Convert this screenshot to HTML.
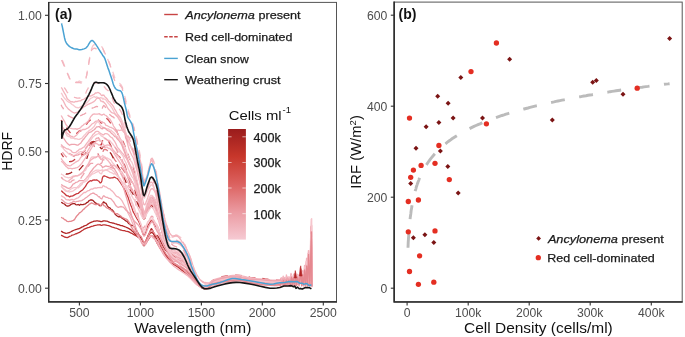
<!DOCTYPE html>
<html><head><meta charset="utf-8"><style>
html,body{margin:0;padding:0;background:#fff;}
svg{display:block;filter:blur(0.3px);}
text{font-family:"Liberation Sans",sans-serif;}
.tk{font-size:12.2px;fill:#4d4d4d;}
.lg{font-size:11.5px;fill:#1a1a1a;stroke:#1a1a1a;stroke-width:0.25px;}
</style></head><body>
<svg width="685" height="337" viewBox="0 0 685 337">
<rect width="685" height="337" fill="#fff"/>
<defs>
<linearGradient id="cb" x1="0" y1="1" x2="0" y2="0">
<stop offset="0" stop-color="#f6cad3"/>
<stop offset="0.25" stop-color="#eb9ba2"/>
<stop offset="0.5" stop-color="#dc6260"/>
<stop offset="0.75" stop-color="#c8372b"/>
<stop offset="1" stop-color="#9a1c1c"/>
</linearGradient>
<clipPath id="ca"><rect x="48.5" y="2.4" width="288" height="299.1"/></clipPath>
</defs>
<!-- panel a -->
<g clip-path="url(#ca)" fill="none" stroke-width="1.3" stroke-linejoin="round" opacity="1">
<path d="M61.1 120.0L61.9 121.4L63.1 123.0L64.5 125.4L65.9 127.3L67.2 129.1L68.4 130.3L69.6 131.8L70.9 133.6L72.1 134.1L73.3 135.3L74.5 134.9L75.7 133.8L77.0 133.2L78.2 132.1L79.4 130.8L80.6 131.0L81.8 129.4L83.1 128.1L84.3 127.4L85.5 125.4L86.7 124.1L87.9 122.2L89.2 121.0L90.4 120.1L91.6 120.0L92.9 120.1L94.2 120.0L95.4 119.6L96.6 120.1L97.7 120.2L98.6 120.1L99.4 121.0L100.1 121.4L100.7 122.6L101.4 123.2L101.9 122.5L102.2 121.4L102.6 119.6L103.1 118.1L103.8 117.6L104.8 117.5L106.0 117.9L107.3 119.1L108.6 120.3L109.9 122.1L111.1 123.7L112.3 125.1L113.5 126.7L114.8 128.0L116.0 130.3L117.2 132.4L118.4 135.2L119.6 137.1L120.9 138.1L122.1 140.1L123.3 142.0L124.5 144.9L125.7 148.5L127.0 151.9L128.2 155.1L129.4 158.3L130.6 161.3L131.8 163.3L133.1 166.5L134.3 170.6L135.5 175.2L136.8 181.4L138.1 187.2L139.3 192.5L140.4 196.8L141.3 202.0L142.0 206.9L142.7 210.2L143.3 212.9L144.0 213.2L144.8 212.1L145.5 210.1L146.2 207.5L147.0 205.8L147.7 204.1L148.4 202.7L149.2 201.8L149.9 200.1L150.6 199.4L151.4 199.2L152.1 198.8L152.8 197.9L153.5 197.6L154.3 197.7L155.0 199.2L155.7 202.0L156.4 204.5L157.0 208.2L157.8 212.7L158.7 216.7L159.7 221.8L160.9 226.2L162.2 231.1L163.5 235.8L164.8 240.0L166.0 243.6L167.2 247.0L168.4 249.9L169.6 252.5L170.9 254.6L172.1 256.2L173.3 257.1L174.5 257.7L175.7 258.2L177.0 258.7L178.2 259.2L179.4 259.4L180.6 259.6L181.8 260.1L183.1 260.9L184.3 262.4L185.5 264.2L186.7 266.3L187.9 268.4L189.2 270.3L190.4 272.1L191.6 273.8L192.8 275.5L194.0 277.1L195.3 278.6L196.5 280.3L197.7 281.9L198.9 283.5L200.1 284.8L201.4 285.9L202.6 286.6L203.8 287.0L205.0 287.3L206.2 287.2L207.4 286.8L208.6 285.9L209.6 284.5L210.7 282.9L211.9 281.3L213.5 280.0L215.6 279.1L218.0 278.3L220.6 277.6L223.2 277.0L225.7 276.5L228.2 276.1L230.6 275.8L233.1 275.6L235.5 275.5L237.9 275.6L240.4 275.8L242.8 276.1L245.3 276.6L247.7 277.0L250.1 277.4L252.6 277.7L255.0 277.9L257.4 278.1L259.9 278.3L262.3 278.5L264.8 278.9L267.2 279.2L269.6 279.6L272.1 279.9L274.5 280.0L277.0 280.0L279.4 279.7L280.2 280.3L280.6 278.8L282.1 280.1L282.8 278.3L284.1 280.6L284.7 278.4L285.9 279.3L286.5 277.8L287.9 280.7L289.1 278.3L290.1 280.3L290.9 277.3L292.3 280.8L293.0 277.2L294.3 281.0L295.8 276.1L296.4 279.5L297.6 277.0L299.1 279.9L301.0 274.1L301.7 279.7L302.4 275.5L303.7 279.4L304.6 273.8L305.7 280.3L306.7 270.0L307.7 280.4L308.5 267.1L309.9 280.8L311.3 256.2L311.9 281.7" stroke="#d04a50" stroke-dasharray="6.8 7.2" stroke-dashoffset="4.7"/>
<path d="M61.1 145.6L61.9 146.5L63.1 147.5L64.5 148.8L65.9 150.2L67.2 151.6L68.4 152.9L69.6 153.9L70.9 154.4L72.1 155.1L73.3 156.0L74.5 156.6L75.7 157.0L77.0 156.7L78.2 155.8L79.4 155.0L80.6 154.3L81.8 153.2L83.1 152.4L84.3 151.5L85.5 149.8L86.7 148.4L87.9 146.5L89.2 144.3L90.4 143.5L91.6 143.1L92.9 143.9L94.2 146.1L95.4 148.7L96.6 151.5L97.7 153.3L98.6 155.0L99.4 156.9L100.1 157.9L100.7 158.9L101.4 158.5L101.9 156.8L102.2 155.0L102.6 153.1L103.1 151.2L103.8 149.7L104.8 149.4L106.0 149.5L107.3 150.5L108.6 152.2L109.9 153.6L111.1 154.9L112.3 156.3L113.5 157.7L114.8 159.8L116.0 161.3L117.2 163.1L118.4 165.3L119.6 165.6L120.9 167.3L122.1 168.6L123.3 170.0L124.5 172.0L125.7 173.8L127.0 176.3L128.2 177.9L129.4 181.3L130.6 185.1L131.8 187.8L133.1 191.6L134.3 193.8L135.5 195.9L136.8 198.9L138.1 201.3L139.3 204.2L140.4 206.3L141.3 208.7L142.0 210.4L142.7 212.5L143.3 214.6L144.0 215.5L144.8 216.4L145.5 215.1L146.2 213.8L147.0 212.1L147.7 210.3L148.4 208.7L149.2 206.1L149.9 204.4L150.6 202.7L151.4 202.5L152.1 203.2L152.8 204.1L153.5 205.9L154.3 208.0L155.0 209.3L155.7 211.5L156.4 213.8L157.0 215.8L157.8 218.1L158.7 220.1L159.7 223.0L160.9 226.0L162.2 229.8L163.5 233.6L164.8 237.1L166.0 240.6L167.2 244.1L168.4 247.4L169.6 250.4L170.9 252.8L172.1 254.6L173.3 255.7L174.5 256.5L175.7 257.2L177.0 258.0L178.2 258.9L179.4 259.6L180.6 260.4L181.8 261.2L183.1 262.2L184.3 263.3L185.5 264.5L186.7 265.8L187.9 267.2L189.2 268.9L190.4 271.0L191.6 273.5L192.8 276.1L194.0 278.5L195.3 280.5L196.5 282.1L197.7 283.5L198.9 284.6L200.1 285.5L201.4 286.3L202.6 287.0L203.8 287.5L205.0 287.9L206.2 287.9L207.4 287.5L208.6 286.5L209.6 284.9L210.7 283.1L211.9 281.3L213.5 279.9L215.6 278.8L218.0 277.9L220.6 277.2L223.2 276.5L225.7 276.0L228.2 275.6L230.6 275.3L233.1 275.2L235.5 275.1L237.9 275.2L240.4 275.5L242.8 275.9L245.3 276.4L247.7 276.9L250.1 277.4L252.6 277.8L255.0 278.2L257.4 278.6L259.9 278.9L262.3 279.2L264.8 279.5L267.2 279.8L269.6 280.0L272.1 280.2L274.5 280.2L277.0 280.0L279.4 279.7L280.2 279.2L280.6 278.9L282.1 281.1L282.9 278.4L284.1 280.0L285.0 278.7L285.9 280.4L286.6 278.1L287.9 280.3L289.5 278.5L290.1 279.5L291.4 277.2L292.3 280.8L292.9 277.9L294.3 279.4L295.2 276.6L296.4 279.9L297.1 277.4L299.1 280.7L300.8 275.8L301.7 279.8L302.8 276.8L303.7 279.9L304.7 274.2L305.7 280.9L306.8 272.8L307.7 280.4L308.7 271.8L309.9 279.2L310.9 262.0L311.9 281.7" stroke="#df7a82" stroke-dasharray="6.8 7.2" stroke-dashoffset="3.3"/>
<path d="M61.1 153.4L61.9 154.7L63.1 156.5L64.5 158.6L65.9 159.8L67.2 160.6L68.4 161.5L69.6 161.7L70.9 161.5L72.1 161.3L73.3 160.6L74.5 159.7L75.7 159.1L77.0 158.3L78.2 156.8L79.4 156.0L80.6 155.3L81.8 154.8L83.1 154.5L84.3 154.5L85.5 153.7L86.7 151.1L87.9 148.3L89.2 145.4L90.4 143.0L91.6 141.9L92.9 141.6L94.2 141.3L95.4 141.8L96.6 142.8L97.7 142.6L98.6 143.6L99.4 144.4L100.1 144.3L100.7 145.2L101.4 144.8L101.9 143.0L102.2 142.4L102.6 140.6L103.1 139.3L103.8 139.6L104.8 138.9L106.0 139.3L107.3 140.5L108.6 141.3L109.9 143.9L111.1 146.2L112.3 147.7L113.5 150.1L114.8 151.6L116.0 153.3L117.2 154.8L118.4 156.1L119.6 156.9L120.9 158.0L122.1 159.8L123.3 161.6L124.5 164.7L125.7 168.3L127.0 171.8L128.2 175.0L129.4 177.8L130.6 179.7L131.8 181.8L133.1 184.8L134.3 187.8L135.5 192.4L136.8 197.4L138.1 201.8L139.3 205.6L140.4 208.9L141.3 211.3L142.0 213.9L142.7 216.9L143.3 218.5L144.0 219.1L144.8 218.5L145.5 216.4L146.2 214.1L147.0 212.2L147.7 210.2L148.4 209.4L149.2 208.2L149.9 206.9L150.6 206.1L151.4 205.3L152.1 205.2L152.8 205.6L153.5 206.5L154.3 207.6L155.0 208.7L155.7 210.0L156.4 212.1L157.0 214.2L157.8 216.3L158.7 219.2L159.7 222.7L160.9 227.4L162.2 231.9L163.5 236.2L164.8 240.1L166.0 243.3L167.2 246.3L168.4 249.1L169.6 251.6L170.9 253.8L172.1 255.8L173.3 257.6L174.5 259.1L175.7 260.4L177.0 261.5L178.2 262.2L179.4 262.5L180.6 262.7L181.8 263.1L183.1 263.8L184.3 264.9L185.5 266.3L186.7 267.9L187.9 269.6L189.2 271.3L190.4 273.1L191.6 275.0L192.8 277.0L194.0 278.9L195.3 280.5L196.5 281.9L197.7 283.2L198.9 284.3L200.1 285.2L201.4 286.0L202.6 286.6L203.8 287.0L205.0 287.3L206.2 287.4L207.4 287.4L208.6 287.3L209.6 287.0L210.7 286.5L211.9 286.0L213.5 285.4L215.6 284.8L218.0 284.0L220.6 283.2L223.2 282.4L225.7 281.8L228.2 281.4L230.6 281.0L233.1 280.7L235.5 280.6L237.9 280.7L240.4 281.0L242.8 281.5L245.3 282.1L247.7 282.7L250.1 283.2L252.6 283.4L255.0 283.5L257.4 283.5L259.9 283.6L262.3 283.8L264.8 284.0L267.2 284.4L269.6 284.8L272.1 285.1L274.5 285.2L277.0 285.0L279.4 284.7L280.2 285.6L281.2 283.9L282.1 284.7L283.7 283.5L284.1 286.0L285.4 283.9L285.9 285.0L286.9 283.1L287.9 285.5L288.8 283.4L290.1 286.2L291.2 282.8L292.3 285.8L293.6 282.6L294.3 284.9L294.9 281.8L296.4 285.1L297.8 282.8L299.1 284.8L300.2 279.8L301.7 284.6L302.3 282.0L303.7 284.6L304.2 279.2L305.7 284.3L306.2 278.8L307.7 285.1L308.6 275.0L309.9 285.9L310.7 266.4L311.9 286.7" stroke="#c43c40" stroke-dasharray="6.8 7.2" stroke-dashoffset="2.3"/>
<path d="M61.1 169.5L61.9 170.6L63.1 171.5L64.5 172.7L65.9 174.0L67.2 174.0L68.4 173.9L69.6 173.4L70.9 172.8L72.1 172.0L73.3 171.3L74.5 170.8L75.7 170.1L77.0 170.5L78.2 170.5L79.4 169.7L80.6 168.3L81.8 166.9L83.1 165.5L84.3 163.8L85.5 162.2L86.7 158.8L87.9 155.0L89.2 150.7L90.4 146.8L91.6 144.4L92.9 142.4L94.2 141.9L95.4 141.5L96.6 141.5L97.7 142.7L98.6 143.8L99.4 145.4L100.1 147.2L100.7 148.0L101.4 148.7L101.9 148.8L102.2 148.2L102.6 147.7L103.1 147.1L103.8 146.8L104.8 147.4L106.0 148.7L107.3 150.0L108.6 151.2L109.9 152.4L111.1 153.7L112.3 156.1L113.5 158.7L114.8 160.9L116.0 163.1L117.2 164.9L118.4 166.8L119.6 169.4L120.9 171.0L122.1 173.0L123.3 175.8L124.5 178.6L125.7 181.6L127.0 185.1L128.2 187.3L129.4 188.8L130.6 190.8L131.8 192.2L133.1 194.1L134.3 196.2L135.5 199.1L136.8 201.8L138.1 204.7L139.3 207.0L140.4 208.7L141.3 210.3L142.0 212.4L142.7 214.8L143.3 216.2L144.0 217.7L144.8 217.1L145.5 215.7L146.2 213.1L147.0 210.6L147.7 208.8L148.4 207.1L149.2 206.9L149.9 206.9L150.6 206.9L151.4 207.0L152.1 207.1L152.8 206.3L153.5 206.5L154.3 208.1L155.0 209.5L155.7 210.9L156.4 212.3L157.0 214.1L157.8 216.6L158.7 220.0L159.7 224.0L160.9 226.3L162.2 231.0L163.5 235.6L164.8 239.6L166.0 243.0L167.2 246.2L168.4 249.1L169.6 251.7L170.9 253.9L172.1 255.6L173.3 256.9L174.5 257.9L175.7 258.7L177.0 259.5L178.2 260.2L179.4 260.7L180.6 261.1L181.8 261.7L183.1 262.5L184.3 263.7L185.5 265.2L186.7 266.7L187.9 268.4L189.2 270.1L190.4 271.8L191.6 273.7L192.8 275.5L194.0 277.4L195.3 279.1L196.5 280.8L197.7 282.5L198.9 284.0L200.1 285.4L201.4 286.5L202.6 287.3L203.8 287.9L205.0 288.3L206.2 288.3L207.4 288.0L208.6 287.2L209.6 285.9L210.7 284.3L211.9 282.8L213.5 281.5L215.6 280.5L218.0 279.6L220.6 278.8L223.2 278.1L225.7 277.6L228.2 277.2L230.6 277.0L233.1 277.0L235.5 277.0L237.9 277.1L240.4 277.3L242.8 277.5L245.3 277.9L247.7 278.2L250.1 278.5L252.6 278.7L255.0 278.9L257.4 279.1L259.9 279.3L262.3 279.5L264.8 279.9L267.2 280.4L269.6 280.9L272.1 281.3L274.5 281.5L277.0 281.4L279.4 281.1L280.2 281.4L280.5 280.4L282.1 281.6L283.5 280.1L284.1 282.0L284.9 280.3L285.9 280.6L286.4 280.0L287.9 282.0L288.7 280.0L290.1 281.6L291.1 279.4L292.3 282.3L293.3 279.6L294.3 282.4L295.4 278.7L296.4 282.3L297.1 279.3L299.1 282.5L301.1 278.2L301.7 281.1L303.1 278.6L303.7 280.8L304.6 277.5L305.7 280.9L306.5 276.2L307.7 282.3L309.2 273.5L309.9 281.7L311.3 269.2L311.9 283.1" stroke="#a51f1f" stroke-dasharray="6.8 7.2" stroke-dashoffset="7.4"/>
<path d="M61.1 190.9L61.9 191.2L63.1 192.5L64.5 193.5L65.9 195.1L67.2 195.9L68.4 195.9L69.6 196.9L70.9 196.1L72.1 196.1L73.3 195.6L74.5 194.9L75.7 194.2L77.0 193.7L78.2 193.4L79.4 192.3L80.6 191.3L81.8 190.4L83.1 189.4L84.3 187.9L85.5 186.4L86.7 184.2L87.9 182.6L89.2 181.4L90.4 180.7L91.6 181.0L92.9 180.1L94.2 180.0L95.4 180.2L96.6 179.8L97.7 180.5L98.6 181.0L99.4 181.9L100.1 182.9L100.7 182.8L101.4 182.1L101.9 180.7L102.2 178.8L102.6 177.4L103.1 176.5L103.8 175.9L104.8 176.0L106.0 176.5L107.3 177.1L108.6 177.7L109.9 178.1L111.1 177.8L112.3 177.8L113.5 177.5L114.8 177.2L116.0 178.0L117.2 178.5L118.4 179.8L119.6 181.5L120.9 183.3L122.1 185.1L123.3 187.1L124.5 189.4L125.7 191.8L127.0 194.9L128.2 197.6L129.4 201.4L130.6 204.7L131.8 207.6L133.1 211.6L134.3 213.6L135.5 215.9L136.8 218.4L138.1 220.3L139.3 222.8L140.4 225.1L141.3 227.8L142.0 230.5L142.7 233.0L143.3 234.6L144.0 235.2L144.8 234.8L145.5 233.0L146.2 230.6L147.0 228.1L147.7 226.0L148.4 224.4L149.2 223.6L149.9 222.7L150.6 221.1L151.4 220.6L152.1 220.5L152.8 221.3L153.5 223.0L154.3 224.7L155.0 225.9L155.7 226.4L156.4 226.9L157.0 227.3L157.8 228.7L158.7 230.2L159.7 232.8L160.9 236.4L162.2 239.8L163.5 243.2L164.8 245.9L166.0 248.1L167.2 250.0L168.4 251.7L169.6 253.1L170.9 254.5L172.1 255.7L173.3 256.7L174.5 257.5L175.7 258.3L177.0 259.1L178.2 259.9L179.4 260.5L180.6 261.1L181.8 261.9L183.1 262.9L184.3 264.3L185.5 265.9L186.7 267.6L187.9 269.4L189.2 271.1L190.4 272.8L191.6 274.5L192.8 276.3L194.0 278.0L195.3 279.6L196.5 281.3L197.7 283.0L198.9 284.6L200.1 286.0L201.4 287.1L202.6 287.9L203.8 288.4L205.0 288.7L206.2 288.7L207.4 288.4L208.6 287.6L209.6 286.5L210.7 285.1L211.9 283.7L213.5 282.6L215.6 281.8L218.0 281.0L220.6 280.4L223.2 279.9L225.7 279.4L228.2 279.1L230.6 278.8L233.1 278.5L235.5 278.4L237.9 278.5L240.4 278.6L242.8 279.0L245.3 279.4L247.7 279.8L250.1 280.2L252.6 280.5L255.0 280.9L257.4 281.2L259.9 281.5L262.3 281.8L264.8 282.0L267.2 282.3L269.6 282.5L272.1 282.6L274.5 282.7L277.0 282.6L279.4 282.4L280.2 282.9L281.1 281.8L282.1 282.8L283.6 281.3L284.1 283.1L285.2 281.7L285.9 282.7L286.9 281.2L287.9 282.3L289.3 281.3L290.1 283.7L290.9 280.6L292.3 283.2L293.2 280.7L294.3 282.7L295.2 280.4L296.4 282.5L297.6 280.9L299.1 281.9L300.7 278.6L301.7 282.2L302.5 279.7L303.7 283.0L304.6 277.7L305.7 283.8L306.3 277.3L307.7 282.1L309.0 274.2L309.9 282.6L311.1 267.9L311.9 284.4" stroke="#c8383c"/>
<path d="M61.1 202.4L61.9 202.6L63.1 203.5L64.5 204.0L65.9 205.5L67.2 206.1L68.4 206.0L69.6 205.6L70.9 204.4L72.1 203.9L73.3 203.7L74.5 203.6L75.7 204.6L77.0 204.9L78.2 204.5L79.4 205.3L80.6 204.3L81.8 204.7L83.1 204.6L84.3 204.1L85.5 203.8L86.7 202.7L87.9 202.1L89.2 200.5L90.4 200.0L91.6 199.9L92.9 200.4L94.2 201.8L95.4 202.9L96.6 203.6L97.7 204.1L98.6 204.4L99.4 205.6L100.1 205.7L100.7 205.6L101.4 205.5L101.9 204.4L102.2 203.7L102.6 203.5L103.1 202.4L103.8 201.9L104.8 202.8L106.0 203.3L107.3 205.8L108.6 207.4L109.9 207.9L111.1 209.4L112.3 209.8L113.5 211.3L114.8 213.8L116.0 215.1L117.2 216.0L118.4 216.8L119.6 216.7L120.9 217.0L122.1 218.2L123.3 218.9L124.5 219.7L125.7 220.9L127.0 221.3L128.2 222.9L129.4 223.9L130.6 224.7L131.8 225.6L133.1 225.5L134.3 227.2L135.5 229.1L136.8 231.1L138.1 233.3L139.3 235.5L140.4 237.2L141.3 239.2L142.0 242.4L142.7 243.7L143.3 245.1L144.0 245.8L144.8 244.6L145.5 243.5L146.2 240.5L147.0 238.2L147.7 236.5L148.4 234.9L149.2 233.3L149.9 231.7L150.6 230.0L151.4 228.7L152.1 229.5L152.8 230.8L153.5 232.7L154.3 235.3L155.0 236.3L155.7 236.3L156.4 236.3L157.0 235.4L157.8 236.0L158.7 237.7L159.7 239.4L160.9 241.9L162.2 244.5L163.5 247.0L164.8 249.0L166.0 250.5L167.2 251.8L168.4 252.9L169.6 253.9L170.9 255.0L172.1 256.2L173.3 257.5L174.5 258.7L175.7 259.9L177.0 260.8L178.2 261.4L179.4 261.7L180.6 261.9L181.8 262.3L183.1 263.1L184.3 264.5L185.5 266.2L186.7 268.1L187.9 270.0L189.2 271.7L190.4 273.2L191.6 274.5L192.8 275.8L194.0 277.1L195.3 278.5L196.5 280.2L197.7 282.1L198.9 284.1L200.1 285.8L201.4 287.0L202.6 287.8L203.8 288.2L205.0 288.3L206.2 288.2L207.4 287.9L208.6 287.3L209.6 286.5L210.7 285.5L211.9 284.4L213.5 283.5L215.6 282.6L218.0 281.7L220.6 280.8L223.2 280.1L225.7 279.5L228.2 279.1L230.6 278.8L233.1 278.6L235.5 278.5L237.9 278.6L240.4 278.8L242.8 279.1L245.3 279.5L247.7 280.0L250.1 280.4L252.6 280.8L255.0 281.2L257.4 281.6L259.9 282.0L262.3 282.3L264.8 282.5L267.2 282.8L269.6 282.9L272.1 283.1L274.5 283.2L277.0 283.1L279.4 283.0L280.2 283.6L280.8 282.3L282.1 283.6L283.6 282.0L284.1 283.3L284.9 282.1L285.9 284.5L287.0 281.5L287.9 284.0L289.3 281.7L290.1 283.8L291.7 281.1L292.3 284.5L293.2 281.4L294.3 283.6L295.2 280.6L296.4 283.0L297.8 281.2L299.1 284.2L300.7 278.9L301.7 283.4L302.6 280.0L303.7 283.0L304.5 277.8L305.7 284.0L307.1 276.2L307.7 283.6L308.5 275.0L309.9 283.2L311.7 268.4L311.9 285.0" stroke="#a51f1f"/>
<path d="M61.1 231.1L61.9 231.6L63.1 232.4L64.5 232.8L65.9 233.3L67.2 233.2L68.4 232.8L69.6 232.5L70.9 231.8L72.1 231.1L73.3 230.5L74.5 230.0L75.7 229.6L77.0 229.2L78.2 228.8L79.4 228.5L80.6 227.9L81.8 227.1L83.1 226.6L84.3 225.9L85.5 225.5L86.7 225.1L87.9 224.1L89.2 223.3L90.4 222.6L91.6 222.1L92.9 221.7L94.2 221.2L95.4 221.1L96.6 220.8L97.7 220.8L98.6 221.1L99.4 221.1L100.1 221.4L100.7 221.5L101.4 221.7L101.9 221.6L102.2 221.4L102.6 221.2L103.1 221.0L103.8 220.9L104.8 220.8L106.0 221.1L107.3 221.2L108.6 221.9L109.9 222.3L111.1 222.6L112.3 223.0L113.5 223.2L114.8 223.6L116.0 223.9L117.2 224.5L118.4 224.7L119.6 225.0L120.9 225.6L122.1 225.7L123.3 226.2L124.5 226.6L125.7 227.0L127.0 227.7L128.2 228.2L129.4 228.9L130.6 229.6L131.8 230.7L133.1 231.7L134.3 233.1L135.5 234.3L136.8 234.9L138.1 235.6L139.3 236.2L140.4 236.9L141.3 238.4L142.0 240.5L142.7 242.3L143.3 243.6L144.0 244.3L144.8 243.6L145.5 242.2L146.2 240.6L147.0 238.7L147.7 237.2L148.4 235.9L149.2 234.7L149.9 233.6L150.6 232.8L151.4 232.4L152.1 232.6L152.8 233.1L153.5 233.8L154.3 234.9L155.0 235.9L155.7 237.2L156.4 238.6L157.0 240.0L157.8 241.4L158.7 242.8L159.7 244.4L160.9 246.9L162.2 248.9L163.5 251.0L164.8 252.9L166.0 254.8L167.2 256.7L168.4 258.6L169.6 260.3L170.9 261.7L172.1 262.7L173.3 263.4L174.5 263.9L175.7 264.4L177.0 265.0L178.2 265.8L179.4 266.7L180.6 267.6L181.8 268.4L183.1 269.3L184.3 270.1L185.5 270.8L186.7 271.6L187.9 272.5L189.2 273.5L190.4 274.9L191.6 276.5L192.8 278.3L194.0 279.9L195.3 281.4L196.5 282.8L197.7 284.1L198.9 285.3L200.1 286.4L201.4 287.2L202.6 287.8L203.8 288.2L205.0 288.3L206.2 288.4L207.4 288.2L208.6 287.8L209.6 287.1L210.7 286.4L211.9 285.5L213.5 284.7L215.6 284.0L218.0 283.2L220.6 282.3L223.2 281.6L225.7 281.1L228.2 280.8L230.6 280.7L233.1 280.6L235.5 280.7L237.9 280.7L240.4 280.9L242.8 281.1L245.3 281.3L247.7 281.6L250.1 281.9L252.6 282.2L255.0 282.5L257.4 282.8L259.9 283.2L262.3 283.4L264.8 283.6L267.2 283.8L269.6 284.0L272.1 284.1L274.5 284.2L277.0 284.3L279.4 284.2L280.2 284.7L280.8 283.4L282.1 284.1L283.3 282.9L284.1 285.4L284.6 283.2L285.9 285.6L286.4 282.8L287.9 283.8L288.8 283.0L290.1 285.7L291.7 282.1L292.3 284.9L293.4 282.2L294.3 284.0L294.8 281.4L296.4 285.2L297.2 281.9L299.1 284.5L300.3 280.2L301.7 284.6L303.1 281.2L303.7 285.7L304.3 278.9L305.7 284.3L307.0 276.4L307.7 284.6L308.4 274.1L309.9 284.6L311.6 266.6L311.9 286.2" stroke="#b02424"/>
<path d="M61.1 235.2L61.9 235.6L63.1 236.2L64.5 237.0L65.9 237.3L67.2 237.6L68.4 237.1L69.6 236.4L70.9 236.0L72.1 235.1L73.3 234.9L74.5 234.5L75.7 233.8L77.0 233.5L78.2 232.8L79.4 232.3L80.6 231.7L81.8 230.8L83.1 230.0L84.3 229.1L85.5 228.6L86.7 228.1L87.9 227.7L89.2 227.3L90.4 226.8L91.6 226.4L92.9 226.1L94.2 225.6L95.4 225.3L96.6 225.2L97.7 224.9L98.6 224.8L99.4 224.8L100.1 224.7L100.7 225.1L101.4 225.4L101.9 225.4L102.2 225.2L102.6 225.0L103.1 224.8L103.8 224.8L104.8 224.9L106.0 225.1L107.3 225.4L108.6 225.6L109.9 226.1L111.1 226.6L112.3 227.1L113.5 227.4L114.8 227.8L116.0 228.1L117.2 228.5L118.4 229.1L119.6 229.7L120.9 230.0L122.1 230.4L123.3 230.6L124.5 230.7L125.7 231.1L127.0 231.3L128.2 231.6L129.4 232.2L130.6 232.8L131.8 233.3L133.1 234.2L134.3 234.8L135.5 235.4L136.8 236.3L138.1 237.3L139.3 238.0L140.4 239.1L141.3 240.2L142.0 241.5L142.7 243.2L143.3 244.2L144.0 244.8L144.8 244.5L145.5 243.7L146.2 242.6L147.0 241.5L147.7 240.5L148.4 239.3L149.2 238.2L149.9 237.0L150.6 236.2L151.4 235.9L152.1 236.1L152.8 236.6L153.5 237.1L154.3 238.0L155.0 239.1L155.7 240.2L156.4 241.6L157.0 242.9L157.8 244.4L158.7 245.7L159.7 247.4L160.9 249.3L162.2 251.2L163.5 253.0L164.8 254.8L166.0 256.5L167.2 258.1L168.4 259.7L169.6 261.2L170.9 262.5L172.1 263.5L173.3 264.3L174.5 264.9L175.7 265.6L177.0 266.4L178.2 267.3L179.4 268.2L180.6 269.2L181.8 270.2L183.1 271.1L184.3 272.0L185.5 272.8L186.7 273.6L187.9 274.5L189.2 275.6L190.4 276.8L191.6 278.1L192.8 279.5L194.0 280.9L195.3 282.2L196.5 283.4L197.7 284.7L198.9 285.8L200.1 286.8L201.4 287.6L202.6 288.2L203.8 288.7L205.0 289.0L206.2 289.0L207.4 288.6L208.6 287.6L209.6 286.2L210.7 284.5L211.9 282.8L213.5 281.5L215.6 280.4L218.0 279.3L220.6 278.5L223.2 277.7L225.7 277.2L228.2 276.9L230.6 276.8L233.1 276.8L235.5 277.0L237.9 277.2L240.4 277.4L242.8 277.8L245.3 278.2L247.7 278.6L250.1 279.0L252.6 279.3L255.0 279.6L257.4 279.9L259.9 280.2L262.3 280.4L264.8 280.6L267.2 280.8L269.6 281.0L272.1 281.0L274.5 281.1L277.0 280.9L279.4 280.6L280.2 281.9L280.7 279.7L282.1 281.8L283.1 279.2L284.1 280.9L284.6 279.6L285.9 280.1L286.9 279.0L287.9 281.8L289.4 279.4L290.1 281.4L291.5 278.5L292.3 281.9L293.5 278.5L294.3 281.3L294.9 278.0L296.4 281.6L297.0 278.1L299.1 280.6L300.9 276.6L301.7 281.3L303.0 276.9L303.7 281.5L305.1 275.6L305.7 281.9L306.4 272.6L307.7 280.9L308.8 272.0L309.9 280.5L311.6 259.7L311.9 282.6" stroke="#bd3030"/>
<path d="M61.1 57.3L61.9 59.3L63.1 62.0L64.5 65.8L65.9 69.2L67.2 72.8L68.4 75.1L69.6 78.1L70.9 80.3L72.1 81.3L73.3 82.9L74.5 82.7L75.7 82.0L77.0 81.8L78.2 81.6L79.4 81.0L80.6 81.5L81.8 82.0L83.1 82.3L84.3 82.0L85.5 79.9L86.7 75.1L87.9 67.8L89.2 60.0L90.4 53.3L91.6 48.5L92.9 45.8L94.2 44.6L95.4 45.1L96.6 45.8L97.7 46.3L98.6 46.4L99.4 46.1L100.1 45.9L100.7 46.3L101.4 46.7L101.9 46.7L102.2 47.4L102.6 47.9L103.1 49.1L103.8 51.1L104.8 53.2L106.0 55.9L107.3 58.4L108.6 61.2L109.9 63.9L111.1 67.0L112.3 70.6L113.5 73.9L114.8 77.8L116.0 80.6L117.2 82.4L118.4 83.5L119.6 83.5L120.9 84.5L122.1 86.5L123.3 90.2L124.5 95.0L125.7 100.0L127.0 105.3L128.2 110.2L129.4 113.9L130.6 117.8L131.8 121.5L133.1 124.6L134.3 128.9L135.5 133.5L136.8 139.6L138.1 145.5L139.3 150.5L140.4 156.4L141.3 161.1L142.0 167.1L142.7 173.5L143.3 177.2L144.0 180.0L144.8 180.5L145.5 179.1L146.2 178.2L147.0 175.9L147.7 173.4L148.4 171.1L149.2 167.7L149.9 163.7L150.6 160.8L151.4 158.6L152.1 157.6L152.8 159.5L153.5 160.7L154.3 162.8L155.0 165.6L155.7 167.7L156.4 172.0L157.0 177.2L157.8 182.0L158.7 188.1L159.7 194.8L160.9 200.3L162.2 207.2L163.5 213.6L164.8 219.0L166.0 223.3L167.2 226.9L168.4 229.9L169.6 232.3L170.9 234.1L172.1 235.2L173.3 235.3L174.5 235.1L175.7 234.9L177.0 235.1L178.2 235.8L179.4 236.5L180.6 237.5L181.8 238.8L183.1 240.6L184.3 243.0L185.5 246.0L186.7 249.3L187.9 252.7L189.2 256.0L190.4 259.4L191.6 263.0L192.8 266.6L194.0 269.9L195.3 272.7L196.5 275.0L197.7 276.9L198.9 278.6L200.1 279.9L201.4 281.0L202.6 281.8L203.8 282.2L205.0 282.4L206.2 282.6L207.4 282.9L208.6 283.5L209.6 284.2L210.7 284.9L211.9 285.3L213.5 285.4L215.6 285.0L218.0 284.1L220.6 283.0L223.2 281.9L225.7 281.2L228.2 280.8L230.6 280.5L233.1 280.3L235.5 280.3L237.9 280.4L240.4 280.7L242.8 281.2L245.3 281.8L247.7 282.4L250.1 282.8L252.6 283.2L255.0 283.4L257.4 283.6L259.9 283.8L262.3 284.1L264.8 284.4L267.2 284.8L269.6 285.2L272.1 285.5L274.5 285.7L277.0 285.6L279.4 285.3L280.2 285.7L280.5 283.4L282.1 284.9L282.8 281.8L284.1 286.2L285.3 283.2L285.9 285.5L287.1 281.4L287.9 286.6L289.5 282.6L290.1 285.6L291.4 280.0L292.3 285.5L293.2 280.9L294.3 284.8L295.5 277.1L296.4 284.8L297.9 279.7L299.1 284.8L300.3 274.1L301.7 285.0L302.5 277.9L303.7 286.7L304.7 273.4L305.7 286.6L307.2 266.7L307.7 285.0L309.1 262.0L309.9 286.3L311.4 237.3L311.9 287.3" stroke="#f6c6cd" stroke-dasharray="6.8 7.2" stroke-dashoffset="10.7"/>
<path d="M61.1 58.3L61.9 60.7L63.1 63.6L64.5 66.8L65.9 70.1L67.2 73.0L68.4 75.8L69.6 78.7L70.9 81.2L72.1 82.3L73.3 82.8L74.5 83.1L75.7 82.5L77.0 82.6L78.2 82.6L79.4 82.4L80.6 82.8L81.8 83.3L83.1 83.4L84.3 82.3L85.5 80.1L86.7 75.2L87.9 68.5L89.2 61.2L90.4 54.3L91.6 50.1L92.9 48.8L94.2 48.2L95.4 48.4L96.6 49.1L97.7 48.7L98.6 48.4L99.4 49.0L100.1 48.7L100.7 49.4L101.4 50.1L101.9 49.6L102.2 49.5L102.6 49.0L103.1 49.2L103.8 50.7L104.8 52.9L106.0 55.5L107.3 58.5L108.6 61.3L109.9 64.8L111.1 68.0L112.3 72.9L113.5 77.3L114.8 80.9L116.0 84.1L117.2 84.9L118.4 84.9L119.6 85.1L120.9 86.3L122.1 87.9L123.3 92.6L124.5 97.8L125.7 102.9L127.0 108.6L128.2 112.5L129.4 115.6L130.6 118.9L131.8 121.9L133.1 125.5L134.3 129.2L135.5 134.1L136.8 140.1L138.1 146.9L139.3 153.5L140.4 159.5L141.3 164.7L142.0 169.6L142.7 175.2L143.3 179.3L144.0 182.6L144.8 183.4L145.5 182.2L146.2 179.5L147.0 176.1L147.7 173.8L148.4 170.4L149.2 167.0L149.9 163.7L150.6 160.1L151.4 158.5L152.1 158.5L152.8 159.6L153.5 161.7L154.3 164.0L155.0 167.5L155.7 170.7L156.4 174.9L157.0 180.0L157.8 184.6L158.7 190.0L159.7 195.6L160.9 201.2L162.2 207.7L163.5 213.9L164.8 219.1L166.0 223.6L167.2 227.6L168.4 231.1L169.6 233.9L170.9 236.0L172.1 237.0L173.3 236.9L174.5 236.4L175.7 235.9L177.0 236.0L178.2 236.8L179.4 237.8L180.6 239.1L181.8 240.7L183.1 242.4L184.3 244.4L185.5 246.6L186.7 249.0L187.9 251.7L189.2 254.6L190.4 257.9L191.6 261.7L192.8 265.6L194.0 269.3L195.3 272.3L196.5 274.7L197.7 276.6L198.9 278.2L200.1 279.5L201.4 280.7L202.6 281.6L203.8 282.3L205.0 282.7L206.2 283.0L207.4 283.1L208.6 283.1L209.6 282.9L210.7 282.5L211.9 282.0L213.5 281.5L215.6 280.9L218.0 280.0L220.6 279.2L223.2 278.4L225.7 277.8L228.2 277.5L230.6 277.3L233.1 277.2L235.5 277.2L237.9 277.3L240.4 277.6L242.8 278.1L245.3 278.7L247.7 279.3L250.1 279.7L252.6 280.0L255.0 280.3L257.4 280.5L259.9 280.7L262.3 281.0L264.8 281.3L267.2 281.6L269.6 281.9L272.1 282.1L274.5 282.2L277.0 282.1L279.4 281.9L280.2 282.4L281.5 280.6L282.1 281.5L283.2 280.2L284.1 281.9L285.2 280.5L285.9 282.4L286.5 279.5L287.9 282.1L289.1 280.2L290.1 283.3L290.9 279.0L292.3 283.2L293.2 279.4L294.3 281.9L295.6 277.2L296.4 282.6L297.8 278.5L299.1 283.2L300.5 275.2L301.7 283.0L302.7 277.4L303.7 282.0L305.1 274.1L305.7 282.0L306.8 272.5L307.7 282.8L308.6 267.4L309.9 282.0L311.6 256.8L311.9 283.9" stroke="#f3b4bd" stroke-dasharray="6.8 7.2" stroke-dashoffset="12.2"/>
<path d="M61.1 81.4L61.9 82.6L63.1 84.8L64.5 87.9L65.9 89.9L67.2 92.3L68.4 93.3L69.6 94.2L70.9 94.7L72.1 95.6L73.3 96.8L74.5 97.3L75.7 97.6L77.0 98.2L78.2 98.1L79.4 98.0L80.6 98.2L81.8 98.0L83.1 97.2L84.3 95.4L85.5 93.9L86.7 90.8L87.9 88.6L89.2 85.9L90.4 83.7L91.6 82.9L92.9 82.7L94.2 83.2L95.4 83.1L96.6 82.8L97.7 82.6L98.6 82.6L99.4 82.3L100.1 83.2L100.7 82.7L101.4 82.8L101.9 83.4L102.2 83.1L102.6 84.0L103.1 85.1L103.8 86.4L104.8 87.3L106.0 89.1L107.3 90.1L108.6 91.0L109.9 93.5L111.1 95.4L112.3 98.3L113.5 101.9L114.8 103.7L116.0 105.2L117.2 106.9L118.4 107.4L119.6 109.4L120.9 111.4L122.1 113.8L123.3 117.9L124.5 122.0L125.7 126.6L127.0 131.8L128.2 135.8L129.4 139.1L130.6 141.7L131.8 143.0L133.1 145.4L134.3 149.1L135.5 154.0L136.8 159.9L138.1 165.7L139.3 170.9L140.4 176.1L141.3 180.6L142.0 184.7L142.7 189.2L143.3 192.3L144.0 194.2L144.8 195.0L145.5 193.7L146.2 191.4L147.0 189.1L147.7 187.1L148.4 184.6L149.2 182.5L149.9 180.0L150.6 177.4L151.4 176.7L152.1 176.7L152.8 177.8L153.5 179.8L154.3 182.4L155.0 185.0L155.7 187.5L156.4 190.4L157.0 193.1L157.8 194.8L158.7 198.5L159.7 202.5L160.9 207.4L162.2 212.7L163.5 217.8L164.8 222.4L166.0 226.5L167.2 230.4L168.4 234.0L169.6 237.1L170.9 239.3L172.1 240.5L173.3 240.7L174.5 240.5L175.7 240.2L177.0 240.4L178.2 241.0L179.4 241.6L180.6 242.4L181.8 243.6L183.1 245.2L184.3 247.5L185.5 250.3L186.7 253.4L187.9 256.6L189.2 259.8L190.4 263.1L191.6 266.6L192.8 270.2L194.0 273.4L195.3 276.2L196.5 278.4L197.7 280.3L198.9 281.8L200.1 283.0L201.4 284.0L202.6 284.7L203.8 285.0L205.0 285.1L206.2 285.1L207.4 285.1L208.6 285.3L209.6 285.5L210.7 285.6L211.9 285.6L213.5 285.3L215.6 284.7L218.0 283.8L220.6 282.8L223.2 281.8L225.7 281.1L228.2 280.8L230.6 280.6L233.1 280.5L235.5 280.6L237.9 280.7L240.4 280.9L242.8 281.3L245.3 281.7L247.7 282.2L250.1 282.6L252.6 283.0L255.0 283.3L257.4 283.7L259.9 284.0L262.3 284.3L264.8 284.6L267.2 285.0L269.6 285.3L272.1 285.5L274.5 285.6L277.0 285.5L279.4 285.3L280.2 285.9L281.5 283.5L282.1 286.3L283.4 282.3L284.1 285.8L284.6 282.9L285.9 286.4L286.3 281.3L287.9 284.9L288.6 282.1L290.1 285.8L291.0 280.2L292.3 285.0L293.5 280.5L294.3 286.7L295.5 277.6L296.4 286.4L297.6 279.9L299.1 285.0L300.4 274.4L301.7 285.5L302.3 277.0L303.7 285.5L304.3 274.6L305.7 284.9L306.4 268.4L307.7 285.8L308.4 265.2L309.9 285.7L311.3 241.7L311.9 287.3" stroke="#f3b4bd" stroke-dasharray="6.8 7.2" stroke-dashoffset="7.1"/>
<path d="M61.1 87.6L61.9 88.2L63.1 90.6L64.5 93.1L65.9 95.4L67.2 98.7L68.4 99.8L69.6 100.8L70.9 101.8L72.1 101.6L73.3 102.2L74.5 102.1L75.7 101.3L77.0 101.7L78.2 101.2L79.4 100.9L80.6 100.9L81.8 99.8L83.1 99.4L84.3 99.0L85.5 98.0L86.7 97.4L87.9 96.5L89.2 95.9L90.4 96.2L91.6 95.6L92.9 94.9L94.2 94.2L95.4 93.0L96.6 93.0L97.7 92.5L98.6 92.6L99.4 93.3L100.1 93.6L100.7 94.5L101.4 95.5L101.9 95.5L102.2 95.0L102.6 95.5L103.1 95.3L103.8 95.0L104.8 96.8L106.0 97.7L107.3 99.2L108.6 101.3L109.9 102.1L111.1 103.8L112.3 105.0L113.5 106.6L114.8 109.4L116.0 111.2L117.2 113.5L118.4 115.3L119.6 116.6L120.9 118.7L122.1 121.8L123.3 124.9L124.5 128.9L125.7 132.7L127.0 136.0L128.2 140.0L129.4 143.0L130.6 145.8L131.8 147.6L133.1 150.2L134.3 154.0L135.5 158.5L136.8 164.6L138.1 171.0L139.3 176.1L140.4 180.6L141.3 185.0L142.0 188.2L142.7 191.5L143.3 193.5L144.0 194.7L144.8 194.9L145.5 193.2L146.2 191.6L147.0 188.8L147.7 187.0L148.4 185.6L149.2 184.1L149.9 183.0L150.6 182.2L151.4 182.1L152.1 182.5L152.8 184.0L153.5 185.7L154.3 188.3L155.0 190.8L155.7 192.4L156.4 194.2L157.0 196.4L157.8 198.6L158.7 202.5L159.7 206.6L160.9 210.5L162.2 215.2L163.5 219.9L164.8 224.1L166.0 228.1L167.2 232.1L168.4 235.9L169.6 239.0L170.9 241.4L172.1 242.7L173.3 243.0L174.5 242.9L175.7 242.8L177.0 243.0L178.2 243.6L179.4 244.3L180.6 245.1L181.8 246.2L183.1 247.9L184.3 250.1L185.5 252.9L186.7 256.1L187.9 259.3L189.2 262.4L190.4 265.5L191.6 268.8L192.8 272.0L194.0 275.0L195.3 277.6L196.5 279.7L197.7 281.6L198.9 283.2L200.1 284.4L201.4 285.4L202.6 286.0L203.8 286.3L205.0 286.3L206.2 286.1L207.4 285.8L208.6 285.3L209.6 284.5L210.7 283.6L211.9 282.7L213.5 281.9L215.6 281.2L218.0 280.4L220.6 279.7L223.2 279.1L225.7 278.7L228.2 278.3L230.6 278.1L233.1 277.9L235.5 277.9L237.9 277.9L240.4 278.1L242.8 278.4L245.3 278.8L247.7 279.2L250.1 279.6L252.6 279.9L255.0 280.2L257.4 280.5L259.9 280.8L262.3 281.1L264.8 281.4L267.2 281.7L269.6 282.0L272.1 282.2L274.5 282.3L277.0 282.3L279.4 282.2L280.2 283.5L281.4 280.2L282.1 282.1L283.5 278.4L284.1 282.8L285.3 279.2L285.9 282.1L286.7 278.3L287.9 282.4L288.6 278.4L290.1 282.9L291.5 276.0L292.3 281.8L293.0 277.0L294.3 282.1L295.6 275.4L296.4 282.4L297.5 276.1L299.1 282.2L301.2 269.4L301.7 282.0L303.2 274.6L303.7 283.1L305.2 267.3L305.7 282.7L306.4 262.4L307.7 283.2L308.3 253.4L309.9 282.9L310.8 226.6L311.9 284.2" stroke="#f3b4bd"/>
<path d="M61.1 92.9L61.9 93.9L63.1 96.4L64.5 98.2L65.9 99.6L67.2 101.2L68.4 102.0L69.6 102.3L70.9 103.4L72.1 104.5L73.3 105.1L74.5 106.3L75.7 107.3L77.0 107.5L78.2 107.8L79.4 107.5L80.6 106.7L81.8 106.0L83.1 104.8L84.3 104.7L85.5 103.6L86.7 102.8L87.9 101.7L89.2 100.0L90.4 98.4L91.6 98.0L92.9 97.2L94.2 96.5L95.4 97.4L96.6 96.9L97.7 97.5L98.6 98.3L99.4 98.1L100.1 97.9L100.7 97.6L101.4 97.8L101.9 97.8L102.2 98.6L102.6 99.1L103.1 98.3L103.8 99.1L104.8 99.1L106.0 100.1L107.3 102.2L108.6 103.6L109.9 105.2L111.1 106.7L112.3 108.4L113.5 110.7L114.8 113.2L116.0 115.2L117.2 116.5L118.4 116.8L119.6 117.8L120.9 119.4L122.1 121.3L123.3 124.7L124.5 128.1L125.7 132.6L127.0 136.9L128.2 141.4L129.4 145.0L130.6 146.8L131.8 149.6L133.1 152.6L134.3 156.7L135.5 161.8L136.8 167.5L138.1 173.6L139.3 179.1L140.4 184.0L141.3 188.4L142.0 191.5L142.7 194.6L143.3 196.9L144.0 198.0L144.8 197.8L145.5 196.3L146.2 194.5L147.0 192.0L147.7 190.6L148.4 189.1L149.2 187.6L149.9 186.7L150.6 185.2L151.4 184.9L152.1 185.1L152.8 185.7L153.5 187.2L154.3 189.1L155.0 191.4L155.7 193.7L156.4 196.9L157.0 199.6L157.8 202.6L158.7 206.3L159.7 210.9L160.9 216.6L162.2 222.0L163.5 227.2L164.8 231.8L166.0 235.7L167.2 239.4L168.4 242.6L169.6 245.4L170.9 247.7L172.1 249.4L173.3 250.4L174.5 251.1L175.7 251.5L177.0 252.0L178.2 252.2L179.4 252.1L180.6 252.0L181.8 252.2L183.1 253.2L184.3 255.0L185.5 257.5L186.7 260.4L187.9 263.4L189.2 266.2L190.4 268.8L191.6 271.6L192.8 274.3L194.0 276.8L195.3 278.9L196.5 280.6L197.7 282.1L198.9 283.3L200.1 284.3L201.4 285.0L202.6 285.5L203.8 285.7L205.0 285.6L206.2 285.5L207.4 285.4L208.6 285.4L209.6 285.2L210.7 285.1L211.9 284.8L213.5 284.4L215.6 283.8L218.0 283.1L220.6 282.3L223.2 281.5L225.7 281.0L228.2 280.7L230.6 280.6L233.1 280.6L235.5 280.6L237.9 280.7L240.4 280.8L242.8 280.9L245.3 281.1L247.7 281.4L250.1 281.6L252.6 282.0L255.0 282.4L257.4 282.8L259.9 283.2L262.3 283.5L264.8 283.8L267.2 284.1L269.6 284.4L272.1 284.6L274.5 284.7L277.0 284.5L279.4 284.2L280.2 284.3L281.4 282.1L282.1 284.9L283.2 280.6L284.1 285.2L285.1 281.7L285.9 285.4L287.0 280.3L287.9 285.5L289.3 280.5L290.1 285.0L291.6 277.9L292.3 283.9L293.2 278.7L294.3 285.3L295.3 277.2L296.4 285.5L297.1 279.1L299.1 285.2L300.9 272.0L301.7 285.4L302.6 275.6L303.7 285.4L304.9 268.9L305.7 285.3L306.4 267.6L307.7 285.6L309.0 255.9L309.9 284.1L311.4 241.8L311.9 286.2" stroke="#f6c6cd"/>
<path d="M61.1 98.2L61.9 99.2L63.1 100.5L64.5 103.4L65.9 106.1L67.2 107.6L68.4 109.1L69.6 109.9L70.9 110.9L72.1 111.9L73.3 112.5L74.5 113.1L75.7 112.6L77.0 112.5L78.2 111.8L79.4 110.6L80.6 109.8L81.8 108.7L83.1 107.5L84.3 106.6L85.5 106.1L86.7 105.1L87.9 104.4L89.2 103.9L90.4 103.3L91.6 102.8L92.9 102.2L94.2 101.4L95.4 100.2L96.6 98.5L97.7 98.1L98.6 97.9L99.4 98.3L100.1 99.5L100.7 101.0L101.4 101.1L101.9 101.2L102.2 101.8L102.6 101.6L103.1 101.4L103.8 102.2L104.8 103.3L106.0 104.6L107.3 107.4L108.6 109.3L109.9 110.6L111.1 112.2L112.3 112.8L113.5 113.1L114.8 114.1L116.0 115.0L117.2 116.0L118.4 118.3L119.6 120.2L120.9 122.1L122.1 125.5L123.3 128.8L124.5 132.5L125.7 137.2L127.0 141.9L128.2 146.2L129.4 150.0L130.6 152.8L131.8 155.2L133.1 157.5L134.3 160.9L135.5 165.5L136.8 169.8L138.1 175.3L139.3 180.3L140.4 184.8L141.3 189.8L142.0 194.9L142.7 199.6L143.3 202.8L144.0 204.7L144.8 204.8L145.5 203.6L146.2 201.7L147.0 199.8L147.7 197.8L148.4 195.5L149.2 193.5L149.9 191.1L150.6 189.7L151.4 188.8L152.1 188.6L152.8 188.9L153.5 189.6L154.3 190.8L155.0 191.8L155.7 193.9L156.4 196.9L157.0 200.5L157.8 204.7L158.7 209.1L159.7 213.2L160.9 217.6L162.2 222.8L163.5 227.8L164.8 232.3L166.0 236.5L167.2 240.6L168.4 244.4L169.6 247.5L170.9 249.8L172.1 250.8L173.3 250.8L174.5 250.3L175.7 249.8L177.0 249.9L178.2 250.7L179.4 251.7L180.6 252.9L181.8 254.4L183.1 256.0L184.3 257.8L185.5 259.8L186.7 262.0L187.9 264.3L189.2 266.6L190.4 269.1L191.6 271.7L192.8 274.4L194.0 276.9L195.3 279.0L196.5 280.8L197.7 282.3L198.9 283.6L200.1 284.7L201.4 285.5L202.6 286.2L203.8 286.6L205.0 286.9L206.2 286.9L207.4 286.8L208.6 286.4L209.6 285.8L210.7 285.0L211.9 284.2L213.5 283.4L215.6 282.6L218.0 281.7L220.6 280.7L223.2 279.9L225.7 279.3L228.2 279.0L230.6 278.7L233.1 278.6L235.5 278.6L237.9 278.7L240.4 278.9L242.8 279.3L245.3 279.7L247.7 280.1L250.1 280.5L252.6 280.8L255.0 281.1L257.4 281.4L259.9 281.7L262.3 282.0L264.8 282.4L267.2 282.8L269.6 283.3L272.1 283.6L274.5 283.8L277.0 283.6L279.4 283.3L280.2 283.8L281.4 281.2L282.1 283.1L282.8 279.9L284.1 283.4L285.1 280.8L285.9 284.7L286.6 278.8L287.9 283.5L288.6 279.8L290.1 283.9L290.9 276.5L292.3 283.7L293.5 276.8L294.3 284.6L295.5 274.8L296.4 283.9L297.4 277.4L299.1 284.1L300.6 271.6L301.7 283.0L302.8 272.5L303.7 284.5L305.1 267.1L305.7 284.4L306.7 260.1L307.7 284.7L308.7 257.7L309.9 284.1L311.6 225.1L311.9 285.3" stroke="#f3b4bd"/>
<path d="M61.1 104.8L61.9 106.6L63.1 108.2L64.5 111.7L65.9 113.4L67.2 114.6L68.4 115.8L69.6 116.4L70.9 117.2L72.1 117.7L73.3 118.3L74.5 117.7L75.7 117.6L77.0 116.9L78.2 116.6L79.4 116.2L80.6 115.6L81.8 115.1L83.1 114.3L84.3 114.1L85.5 113.2L86.7 112.0L87.9 110.8L89.2 109.4L90.4 108.8L91.6 108.4L92.9 107.9L94.2 107.5L95.4 106.9L96.6 106.4L97.7 106.7L98.6 107.2L99.4 107.9L100.1 109.3L100.7 110.0L101.4 110.4L101.9 110.3L102.2 108.9L102.6 107.3L103.1 106.4L103.8 105.5L104.8 106.3L106.0 108.3L107.3 110.2L108.6 112.9L109.9 114.8L111.1 115.7L112.3 116.7L113.5 117.2L114.8 118.8L116.0 119.8L117.2 121.2L118.4 122.7L119.6 124.8L120.9 126.7L122.1 129.4L123.3 131.6L124.5 134.0L125.7 137.7L127.0 139.8L128.2 143.3L129.4 144.5L130.6 145.7L131.8 148.3L133.1 150.5L134.3 154.1L135.5 158.7L136.8 163.4L138.1 168.8L139.3 174.7L140.4 178.7L141.3 182.7L142.0 186.7L142.7 190.0L143.3 193.1L144.0 194.6L144.8 193.9L145.5 193.3L146.2 191.1L147.0 189.2L147.7 187.5L148.4 184.7L149.2 181.7L149.9 178.7L150.6 177.1L151.4 175.5L152.1 176.7L152.8 178.4L153.5 181.0L154.3 184.2L155.0 186.4L155.7 188.7L156.4 191.0L157.0 194.2L157.8 197.3L158.7 202.0L159.7 206.6L160.9 212.7L162.2 218.7L163.5 224.4L164.8 229.1L166.0 232.9L167.2 236.2L168.4 238.9L169.6 241.2L170.9 243.1L172.1 244.6L173.3 245.5L174.5 246.1L175.7 246.5L177.0 247.1L178.2 247.5L179.4 247.8L180.6 248.0L181.8 248.6L183.1 249.8L184.3 251.7L185.5 254.2L186.7 257.1L187.9 260.1L189.2 263.0L190.4 266.0L191.6 269.1L192.8 272.3L194.0 275.2L195.3 277.6L196.5 279.5L197.7 281.0L198.9 282.2L200.1 283.2L201.4 284.0L202.6 284.7L203.8 285.1L205.0 285.3L206.2 285.4L207.4 285.5L208.6 285.4L209.6 285.2L210.7 284.9L211.9 284.5L213.5 284.1L215.6 283.6L218.0 282.9L220.6 282.3L223.2 281.7L225.7 281.2L228.2 280.7L230.6 280.4L233.1 280.1L235.5 279.9L237.9 279.8L240.4 280.0L242.8 280.4L245.3 280.9L247.7 281.4L250.1 281.8L252.6 282.3L255.0 282.7L257.4 283.2L259.9 283.6L262.3 283.8L264.8 283.9L267.2 283.9L269.6 283.8L272.1 283.7L274.5 283.6L277.0 283.6L279.4 283.5L280.2 284.0L280.7 281.2L282.1 283.3L283.5 279.9L284.1 283.0L285.2 280.9L285.9 283.4L286.3 279.0L287.9 284.7L288.8 279.8L290.1 283.6L291.8 276.8L292.3 284.5L293.1 278.3L294.3 284.4L295.7 276.7L296.4 284.3L297.8 278.1L299.1 284.8L300.7 271.4L301.7 284.6L302.6 273.9L303.7 284.7L305.2 269.9L305.7 283.2L307.0 266.8L307.7 284.6L309.0 253.5L309.9 283.1L311.6 224.4L311.9 285.5" stroke="#eea4ae" stroke-dasharray="6.8 7.2" stroke-dashoffset="1.7"/>
<path d="M61.1 115.5L61.9 116.7L63.1 119.0L64.5 121.3L65.9 124.5L67.2 126.1L68.4 127.2L69.6 128.2L70.9 128.3L72.1 128.6L73.3 128.8L74.5 128.8L75.7 128.7L77.0 129.3L78.2 128.7L79.4 128.5L80.6 127.5L81.8 126.1L83.1 125.2L84.3 124.0L85.5 123.6L86.7 122.6L87.9 121.6L89.2 119.5L90.4 117.2L91.6 115.7L92.9 114.3L94.2 114.0L95.4 114.1L96.6 114.2L97.7 114.2L98.6 113.8L99.4 113.6L100.1 114.6L100.7 114.4L101.4 115.0L101.9 115.3L102.2 114.7L102.6 114.7L103.1 114.5L103.8 114.1L104.8 115.0L106.0 115.5L107.3 116.8L108.6 118.2L109.9 119.1L111.1 121.0L112.3 123.2L113.5 126.0L114.8 127.9L116.0 129.7L117.2 130.4L118.4 130.0L119.6 130.5L120.9 130.1L122.1 130.2L123.3 131.7L124.5 132.7L125.7 134.6L127.0 136.7L128.2 136.9L129.4 137.5L130.6 137.9L131.8 137.1L133.1 139.2L134.3 140.8L135.5 143.5L136.8 148.0L138.1 151.6L139.3 156.9L140.4 160.9L141.3 165.2L142.0 170.7L142.7 175.3L143.3 179.5L144.0 182.6L144.8 182.4L145.5 180.8L146.2 178.7L147.0 175.8L147.7 173.6L148.4 171.1L149.2 168.0L149.9 164.6L150.6 161.6L151.4 160.0L152.1 160.8L152.8 162.5L153.5 165.7L154.3 168.5L155.0 169.9L155.7 172.6L156.4 176.1L157.0 179.1L157.8 184.0L158.7 188.3L159.7 192.4L160.9 200.1L162.2 207.0L163.5 213.4L164.8 218.8L166.0 223.2L167.2 227.0L168.4 230.2L169.6 232.8L170.9 234.8L172.1 235.8L173.3 235.9L174.5 235.6L175.7 235.3L177.0 235.7L178.2 236.7L179.4 238.0L180.6 239.5L181.8 241.3L183.1 243.1L184.3 245.0L185.5 247.1L186.7 249.3L187.9 251.7L189.2 254.4L190.4 257.5L191.6 261.1L192.8 264.9L194.0 268.4L195.3 271.4L196.5 274.0L197.7 276.2L198.9 278.2L200.1 279.8L201.4 281.1L202.6 282.1L203.8 282.8L205.0 283.1L206.2 283.2L207.4 283.2L208.6 283.0L209.6 282.5L210.7 281.9L211.9 281.2L213.5 280.5L215.6 279.8L218.0 278.9L220.6 278.0L223.2 277.2L225.7 276.6L228.2 276.1L230.6 275.7L233.1 275.4L235.5 275.3L237.9 275.3L240.4 275.6L242.8 276.1L245.3 276.7L247.7 277.3L250.1 277.7L252.6 278.1L255.0 278.5L257.4 278.8L259.9 279.1L262.3 279.4L264.8 279.6L267.2 279.8L269.6 280.0L272.1 280.1L274.5 280.1L277.0 279.9L279.4 279.6L280.2 279.7L281.3 278.3L282.1 279.6L283.4 277.6L284.1 280.6L285.5 278.2L285.9 280.3L286.9 276.9L287.9 280.0L289.2 277.4L290.1 280.5L291.0 275.7L292.3 280.1L293.2 276.8L294.3 281.1L295.6 275.3L296.4 280.2L298.0 276.3L299.1 280.9L300.4 272.9L301.7 279.6L302.5 274.8L303.7 280.3L304.5 272.6L305.7 280.9L306.5 269.9L307.7 279.5L309.0 265.3L309.9 279.8L310.8 254.4L311.9 281.6" stroke="#f3b4bd"/>
<path d="M61.1 125.0L61.9 126.1L63.1 128.0L64.5 129.6L65.9 131.6L67.2 133.4L68.4 134.1L69.6 135.3L70.9 136.3L72.1 136.4L73.3 137.2L74.5 136.8L75.7 135.8L77.0 134.7L78.2 133.1L79.4 131.6L80.6 130.8L81.8 130.3L83.1 129.3L84.3 129.5L85.5 129.3L86.7 128.4L87.9 128.1L89.2 126.9L90.4 125.8L91.6 124.3L92.9 123.5L94.2 122.7L95.4 121.5L96.6 121.2L97.7 120.9L98.6 120.5L99.4 120.9L100.1 121.0L100.7 121.3L101.4 121.9L101.9 122.4L102.2 122.9L102.6 122.1L103.1 122.3L103.8 122.5L104.8 123.4L106.0 125.3L107.3 125.7L108.6 126.5L109.9 127.3L111.1 127.3L112.3 128.1L113.5 128.7L114.8 130.0L116.0 131.6L117.2 132.6L118.4 134.7L119.6 137.3L120.9 140.0L122.1 144.1L123.3 146.8L124.5 149.8L125.7 153.6L127.0 157.3L128.2 161.9L129.4 165.1L130.6 167.8L131.8 170.9L133.1 174.6L134.3 178.7L135.5 184.0L136.8 190.3L138.1 196.4L139.3 202.6L140.4 208.0L141.3 212.0L142.0 214.7L142.7 216.3L143.3 218.0L144.0 218.0L144.8 217.4L145.5 216.5L146.2 214.1L147.0 212.1L147.7 210.9L148.4 208.8L149.2 207.2L149.9 205.8L150.6 204.4L151.4 204.2L152.1 204.6L152.8 204.9L153.5 205.9L154.3 207.1L155.0 208.2L155.7 209.7L156.4 212.1L157.0 214.7L157.8 217.7L158.7 221.2L159.7 224.6L160.9 227.9L162.2 232.6L163.5 237.3L164.8 241.4L166.0 245.1L167.2 248.6L168.4 251.8L169.6 254.6L170.9 256.9L172.1 258.5L173.3 259.4L174.5 260.0L175.7 260.6L177.0 261.5L178.2 262.7L179.4 264.1L180.6 265.5L181.8 266.8L183.1 268.1L184.3 269.1L185.5 270.0L186.7 270.9L187.9 271.8L189.2 273.0L190.4 274.5L191.6 276.2L192.8 278.0L194.0 279.7L195.3 281.2L196.5 282.5L197.7 283.8L198.9 284.9L200.1 285.9L201.4 286.6L202.6 287.3L203.8 287.8L205.0 288.1L206.2 288.1L207.4 287.7L208.6 286.7L209.6 285.0L210.7 283.2L211.9 281.4L213.5 280.0L215.6 279.1L218.0 278.5L220.6 278.0L223.2 277.6L225.7 277.3L228.2 277.1L230.6 276.9L233.1 276.9L235.5 276.9L237.9 276.9L240.4 277.1L242.8 277.3L245.3 277.7L247.7 278.0L250.1 278.3L252.6 278.5L255.0 278.7L257.4 279.0L259.9 279.2L262.3 279.4L264.8 279.8L267.2 280.1L269.6 280.5L272.1 280.7L274.5 280.8L277.0 280.6L279.4 280.2L280.2 280.6L281.2 277.7L282.1 281.1L283.2 276.1L284.1 281.5L284.5 277.3L285.9 281.6L286.4 274.9L287.9 280.3L288.9 276.6L290.1 280.2L291.0 273.3L292.3 281.5L293.6 274.2L294.3 280.0L295.6 273.0L296.4 281.2L298.0 274.6L299.1 280.4L300.2 267.7L301.7 281.1L302.2 270.6L303.7 280.4L304.7 266.1L305.7 281.2L306.8 258.2L307.7 281.0L308.4 250.7L309.9 280.8L311.3 219.2L311.9 282.2" stroke="#f3b4bd"/>
<path d="M61.1 126.9L61.9 127.4L63.1 129.4L64.5 132.1L65.9 133.4L67.2 135.9L68.4 136.5L69.6 136.4L70.9 138.2L72.1 138.0L73.3 137.9L74.5 138.8L75.7 138.6L77.0 138.9L78.2 139.4L79.4 139.4L80.6 138.6L81.8 138.3L83.1 136.8L84.3 135.2L85.5 134.2L86.7 132.5L87.9 131.8L89.2 130.6L90.4 129.8L91.6 129.0L92.9 127.7L94.2 126.6L95.4 124.0L96.6 122.4L97.7 121.7L98.6 122.0L99.4 123.2L100.1 124.7L100.7 126.0L101.4 126.1L101.9 126.3L102.2 126.9L102.6 127.3L103.1 127.8L103.8 128.2L104.8 128.2L106.0 128.6L107.3 128.8L108.6 129.0L109.9 130.2L111.1 130.1L112.3 131.6L113.5 132.6L114.8 133.8L116.0 136.0L117.2 136.6L118.4 138.2L119.6 139.2L120.9 139.7L122.1 141.2L123.3 143.8L124.5 145.9L125.7 149.3L127.0 153.2L128.2 155.3L129.4 158.0L130.6 160.6L131.8 162.1L133.1 165.2L134.3 168.8L135.5 173.1L136.8 178.8L138.1 184.8L139.3 190.3L140.4 195.4L141.3 199.5L142.0 203.9L142.7 207.3L143.3 210.0L144.0 212.1L144.8 211.0L145.5 209.5L146.2 206.5L147.0 203.4L147.7 201.8L148.4 200.0L149.2 198.1L149.9 196.6L150.6 195.4L151.4 195.3L152.1 195.4L152.8 196.2L153.5 197.3L154.3 197.6L155.0 199.1L155.7 201.2L156.4 203.4L157.0 206.1L157.8 210.4L158.7 213.8L159.7 217.4L160.9 222.7L162.2 227.7L163.5 232.5L164.8 236.5L166.0 239.8L167.2 242.7L168.4 245.1L169.6 247.2L170.9 248.9L172.1 250.1L173.3 250.7L174.5 251.1L175.7 251.4L177.0 252.1L178.2 252.9L179.4 253.8L180.6 254.9L181.8 256.1L183.1 257.5L184.3 259.2L185.5 261.2L186.7 263.4L187.9 265.6L189.2 267.7L190.4 269.9L191.6 272.2L192.8 274.4L194.0 276.6L195.3 278.6L196.5 280.4L197.7 282.2L198.9 283.9L200.1 285.3L201.4 286.3L202.6 286.8L203.8 287.0L205.0 286.8L206.2 286.7L207.4 286.6L208.6 286.6L209.6 286.7L210.7 286.7L211.9 286.7L213.5 286.4L215.6 285.9L218.0 285.1L220.6 284.2L223.2 283.4L225.7 282.7L228.2 282.1L230.6 281.6L233.1 281.2L235.5 280.9L237.9 280.9L240.4 281.1L242.8 281.7L245.3 282.4L247.7 283.1L250.1 283.6L252.6 284.0L255.0 284.2L257.4 284.5L259.9 284.6L262.3 284.8L264.8 285.0L267.2 285.1L269.6 285.2L272.1 285.3L274.5 285.3L277.0 285.3L279.4 285.2L280.2 284.7L280.6 283.6L282.1 286.6L283.8 282.2L284.1 286.5L285.4 282.9L285.9 286.3L286.3 281.6L287.9 284.8L289.3 282.5L290.1 285.8L291.6 280.7L292.3 285.2L292.8 281.6L294.3 284.9L294.9 278.5L296.4 285.7L297.6 281.0L299.1 285.3L300.9 275.1L301.7 285.9L302.3 277.5L303.7 284.9L304.7 273.7L305.7 285.1L307.0 270.4L307.7 286.0L308.9 266.7L309.9 284.9L311.5 240.8L311.9 287.2" stroke="#f6c6cd"/>
<path d="M61.1 133.6L61.9 135.2L63.1 137.3L64.5 139.5L65.9 141.6L67.2 143.2L68.4 144.3L69.6 145.3L70.9 144.5L72.1 144.4L73.3 144.4L74.5 144.3L75.7 144.6L77.0 145.1L78.2 145.0L79.4 144.0L80.6 143.3L81.8 141.5L83.1 139.7L84.3 138.5L85.5 136.7L86.7 135.4L87.9 133.8L89.2 132.4L90.4 132.1L91.6 131.6L92.9 130.5L94.2 129.8L95.4 128.5L96.6 126.8L97.7 126.8L98.6 126.6L99.4 126.7L100.1 127.5L100.7 127.9L101.4 128.5L101.9 128.7L102.2 128.9L102.6 128.7L103.1 127.4L103.8 127.6L104.8 128.1L106.0 128.9L107.3 130.3L108.6 131.0L109.9 131.5L111.1 132.9L112.3 133.9L113.5 135.1L114.8 136.6L116.0 137.0L117.2 138.8L118.4 139.9L119.6 141.4L120.9 143.4L122.1 145.8L123.3 149.3L124.5 152.1L125.7 155.4L127.0 158.2L128.2 160.7L129.4 163.3L130.6 165.7L131.8 168.5L133.1 171.2L134.3 174.8L135.5 178.7L136.8 183.4L138.1 188.8L139.3 193.8L140.4 198.5L141.3 202.1L142.0 205.3L142.7 208.7L143.3 211.0L144.0 212.8L144.8 212.9L145.5 211.3L146.2 209.8L147.0 207.2L147.7 204.9L148.4 203.6L149.2 201.3L149.9 199.5L150.6 198.8L151.4 197.6L152.1 197.5L152.8 198.7L153.5 200.2L154.3 202.4L155.0 205.5L155.7 207.3L156.4 209.2L157.0 211.9L157.8 214.1L158.7 217.9L159.7 222.2L160.9 227.8L162.2 233.0L163.5 238.0L164.8 242.5L166.0 246.5L167.2 250.2L168.4 253.6L169.6 256.5L170.9 258.8L172.1 260.3L173.3 261.0L174.5 261.4L175.7 261.6L177.0 262.0L178.2 262.5L179.4 263.0L180.6 263.5L181.8 264.1L183.1 264.9L184.3 265.8L185.5 267.0L186.7 268.2L187.9 269.7L189.2 271.4L190.4 273.6L191.6 276.1L192.8 278.8L194.0 281.3L195.3 283.2L196.5 284.4L197.7 285.1L198.9 285.6L200.1 285.9L201.4 286.2L202.6 286.6L203.8 287.0L205.0 287.3L206.2 287.4L207.4 287.3L208.6 287.1L209.6 286.7L210.7 286.2L211.9 285.5L213.5 284.9L215.6 284.2L218.0 283.3L220.6 282.5L223.2 281.7L225.7 281.0L228.2 280.6L230.6 280.2L233.1 280.0L235.5 279.9L237.9 280.0L240.4 280.3L242.8 280.8L245.3 281.4L247.7 282.0L250.1 282.5L252.6 282.8L255.0 283.0L257.4 283.2L259.9 283.4L262.3 283.5L264.8 283.6L267.2 283.7L269.6 283.7L272.1 283.7L274.5 283.8L277.0 283.8L279.4 283.9L280.2 284.2L280.8 281.3L282.1 283.8L283.5 280.2L284.1 284.8L285.2 281.0L285.9 284.5L287.1 279.1L287.9 283.7L288.9 279.9L290.1 283.8L291.3 278.1L292.3 284.2L292.9 278.5L294.3 284.9L294.8 276.7L296.4 284.6L297.4 276.6L299.1 284.5L300.9 271.6L301.7 284.1L302.5 275.2L303.7 284.8L304.9 270.5L305.7 284.6L306.4 261.1L307.7 283.7L308.4 252.8L309.9 284.5L311.4 227.1L311.9 285.9" stroke="#eea4ae"/>
<path d="M61.1 144.3L61.9 145.3L63.1 146.6L64.5 147.3L65.9 148.3L67.2 148.8L68.4 149.0L69.6 149.7L70.9 150.4L72.1 152.0L73.3 152.6L74.5 152.7L75.7 152.6L77.0 151.3L78.2 150.6L79.4 149.1L80.6 149.1L81.8 148.4L83.1 147.5L84.3 146.9L85.5 145.1L86.7 143.3L87.9 141.8L89.2 140.0L90.4 138.2L91.6 136.6L92.9 134.6L94.2 133.5L95.4 131.9L96.6 131.4L97.7 131.4L98.6 131.7L99.4 132.7L100.1 133.1L100.7 133.6L101.4 133.8L101.9 134.0L102.2 134.5L102.6 134.7L103.1 135.0L103.8 134.7L104.8 133.7L106.0 133.7L107.3 133.8L108.6 134.7L109.9 136.3L111.1 137.3L112.3 137.8L113.5 139.8L114.8 141.7L116.0 143.9L117.2 146.8L118.4 148.5L119.6 149.8L120.9 151.5L122.1 152.9L123.3 154.1L124.5 156.0L125.7 157.5L127.0 159.6L128.2 162.3L129.4 164.7L130.6 167.2L131.8 169.2L133.1 171.4L134.3 174.6L135.5 178.8L136.8 184.4L138.1 189.0L139.3 193.2L140.4 197.3L141.3 200.5L142.0 205.4L142.7 209.8L143.3 212.2L144.0 213.6L144.8 213.2L145.5 211.3L146.2 209.4L147.0 207.4L147.7 205.1L148.4 203.1L149.2 200.7L149.9 198.8L150.6 197.7L151.4 197.0L152.1 197.2L152.8 196.9L153.5 198.6L154.3 199.9L155.0 201.9L155.7 205.3L156.4 208.1L157.0 211.6L157.8 215.3L158.7 218.6L159.7 222.3L160.9 227.1L162.2 231.7L163.5 236.1L164.8 240.1L166.0 243.6L167.2 246.9L168.4 249.9L169.6 252.5L170.9 254.7L172.1 256.4L173.3 257.6L174.5 258.5L175.7 259.2L177.0 259.9L178.2 260.4L179.4 260.6L180.6 260.7L181.8 261.1L183.1 261.9L184.3 263.2L185.5 265.0L186.7 267.0L187.9 269.1L189.2 271.1L190.4 273.1L191.6 275.3L192.8 277.4L194.0 279.4L195.3 281.0L196.5 282.3L197.7 283.4L198.9 284.2L200.1 284.9L201.4 285.6L202.6 286.3L203.8 286.9L205.0 287.4L206.2 287.6L207.4 287.5L208.6 287.0L209.6 286.1L210.7 284.9L211.9 283.7L213.5 282.6L215.6 281.6L218.0 280.5L220.6 279.5L223.2 278.6L225.7 277.9L228.2 277.5L230.6 277.3L233.1 277.2L235.5 277.2L237.9 277.4L240.4 277.8L242.8 278.4L245.3 279.0L247.7 279.7L250.1 280.3L252.6 280.7L255.0 281.1L257.4 281.5L259.9 281.8L262.3 282.0L264.8 282.1L267.2 282.1L269.6 282.1L272.1 282.0L274.5 282.0L277.0 281.9L279.4 281.7L280.2 282.0L281.3 279.0L282.1 282.2L283.4 278.1L284.1 281.8L285.1 279.2L285.9 282.6L286.4 276.5L287.9 281.5L289.4 277.9L290.1 282.5L291.2 274.4L292.3 281.5L292.9 276.5L294.3 282.0L294.9 273.7L296.4 282.8L297.1 274.2L299.1 282.9L300.9 269.0L301.7 282.2L303.1 270.9L303.7 282.6L304.5 265.5L305.7 283.0L306.5 258.6L307.7 282.5L308.9 250.7L309.9 281.4L311.1 234.2L311.9 283.7" stroke="#f3b4bd"/>
<path d="M61.1 145.8L61.9 146.8L63.1 148.2L64.5 150.1L65.9 151.2L67.2 152.3L68.4 153.6L69.6 154.2L70.9 154.9L72.1 155.6L73.3 155.4L74.5 155.7L75.7 155.1L77.0 153.8L78.2 152.9L79.4 152.0L80.6 151.6L81.8 151.7L83.1 151.3L84.3 150.5L85.5 149.4L86.7 146.6L87.9 144.6L89.2 142.5L90.4 140.3L91.6 139.0L92.9 137.1L94.2 136.1L95.4 135.1L96.6 134.4L97.7 134.0L98.6 133.4L99.4 133.9L100.1 134.5L100.7 135.1L101.4 136.0L101.9 136.1L102.2 136.2L102.6 136.7L103.1 136.9L103.8 137.7L104.8 138.9L106.0 139.1L107.3 139.8L108.6 140.1L109.9 140.6L111.1 142.3L112.3 143.5L113.5 145.1L114.8 146.9L116.0 148.1L117.2 149.5L118.4 151.1L119.6 151.7L120.9 153.4L122.1 155.0L123.3 156.7L124.5 160.0L125.7 162.3L127.0 165.2L128.2 168.9L129.4 171.2L130.6 174.4L131.8 176.6L133.1 178.1L134.3 181.0L135.5 184.1L136.8 188.3L138.1 193.4L139.3 197.8L140.4 202.0L141.3 206.1L142.0 209.7L142.7 213.0L143.3 215.1L144.0 216.6L144.8 216.1L145.5 214.4L146.2 212.8L147.0 209.9L147.7 208.2L148.4 206.9L149.2 204.8L149.9 203.6L150.6 202.8L151.4 202.8L152.1 203.4L152.8 203.8L153.5 205.3L154.3 206.7L155.0 208.0L155.7 210.2L156.4 211.9L157.0 213.2L157.8 216.0L158.7 218.6L159.7 221.4L160.9 226.1L162.2 230.2L163.5 234.2L164.8 238.1L166.0 241.9L167.2 245.8L168.4 249.6L169.6 252.8L170.9 255.4L172.1 256.9L173.3 257.6L174.5 257.9L175.7 258.1L177.0 258.7L178.2 259.4L179.4 260.2L180.6 261.0L181.8 262.0L183.1 263.2L184.3 264.8L185.5 266.5L186.7 268.4L187.9 270.3L189.2 272.1L190.4 273.8L191.6 275.6L192.8 277.3L194.0 278.9L195.3 280.3L196.5 281.7L197.7 282.9L198.9 284.0L200.1 285.0L201.4 285.8L202.6 286.4L203.8 287.0L205.0 287.4L206.2 287.5L207.4 287.5L208.6 287.1L209.6 286.4L210.7 285.6L211.9 284.7L213.5 283.9L215.6 283.0L218.0 282.0L220.6 281.1L223.2 280.2L225.7 279.6L228.2 279.2L230.6 279.0L233.1 278.9L235.5 278.9L237.9 278.9L240.4 279.0L242.8 279.1L245.3 279.3L247.7 279.6L250.1 279.9L252.6 280.3L255.0 280.8L257.4 281.3L259.9 281.8L262.3 282.2L264.8 282.6L267.2 282.9L269.6 283.1L272.1 283.3L274.5 283.4L277.0 283.3L279.4 283.2L280.2 283.6L281.0 280.4L282.1 283.4L283.8 279.6L284.1 283.1L284.5 279.9L285.9 284.4L287.2 278.0L287.9 283.2L289.2 278.9L290.1 284.5L291.5 276.1L292.3 284.4L292.8 277.6L294.3 283.2L295.2 273.8L296.4 282.8L297.5 275.6L299.1 283.3L301.1 271.0L301.7 284.5L302.6 272.7L303.7 283.6L305.1 266.9L305.7 283.2L306.3 261.1L307.7 284.0L309.0 253.7L309.9 284.1L311.7 218.6L311.9 285.2" stroke="#f6c6cd"/>
<path d="M61.1 149.9L61.9 151.2L63.1 153.2L64.5 154.9L65.9 156.5L67.2 157.2L68.4 157.4L69.6 157.4L70.9 157.4L72.1 157.3L73.3 156.2L74.5 155.5L75.7 155.3L77.0 155.2L78.2 154.9L79.4 154.1L80.6 153.2L81.8 151.7L83.1 150.8L84.3 149.7L85.5 148.4L86.7 147.3L87.9 145.5L89.2 144.3L90.4 143.8L91.6 142.9L92.9 142.2L94.2 141.6L95.4 139.4L96.6 138.2L97.7 138.1L98.6 137.7L99.4 139.2L100.1 140.2L100.7 141.3L101.4 141.6L101.9 141.0L102.2 141.1L102.6 139.7L103.1 138.8L103.8 138.7L104.8 138.0L106.0 138.9L107.3 140.2L108.6 141.0L109.9 142.1L111.1 143.0L112.3 143.7L113.5 145.1L114.8 147.0L116.0 148.8L117.2 151.2L118.4 153.6L119.6 155.0L120.9 157.6L122.1 159.9L123.3 163.1L124.5 167.0L125.7 171.0L127.0 175.0L128.2 178.9L129.4 183.1L130.6 186.5L131.8 190.5L133.1 193.9L134.3 197.0L135.5 202.6L136.8 209.0L138.1 215.5L139.3 221.1L140.4 224.5L141.3 226.4L142.0 228.0L142.7 228.5L143.3 227.9L144.0 227.3L144.8 226.3L145.5 225.5L146.2 224.1L147.0 222.6L147.7 221.5L148.4 220.6L149.2 219.8L149.9 219.1L150.6 217.6L151.4 216.3L152.1 216.1L152.8 216.8L153.5 217.7L154.3 219.2L155.0 221.2L155.7 222.3L156.4 224.0L157.0 225.7L157.8 226.7L158.7 228.9L159.7 231.4L160.9 234.0L162.2 237.2L163.5 240.3L164.8 243.1L166.0 245.5L167.2 247.7L168.4 249.7L169.6 251.6L170.9 253.3L172.1 254.7L173.3 256.0L174.5 257.1L175.7 258.1L177.0 259.0L178.2 259.6L179.4 260.1L180.6 260.4L181.8 260.8L183.1 261.5L184.3 262.4L185.5 263.5L186.7 264.6L187.9 266.0L189.2 267.7L190.4 269.6L191.6 272.0L192.8 274.4L194.0 276.8L195.3 278.9L196.5 280.9L197.7 282.7L198.9 284.4L200.1 285.8L201.4 286.9L202.6 287.6L203.8 287.9L205.0 287.9L206.2 287.8L207.4 287.6L208.6 287.2L209.6 286.7L210.7 286.0L211.9 285.3L213.5 284.6L215.6 283.8L218.0 282.9L220.6 282.0L223.2 281.2L225.7 280.6L228.2 280.1L230.6 279.8L233.1 279.6L235.5 279.5L237.9 279.5L240.4 279.8L242.8 280.2L245.3 280.7L247.7 281.2L250.1 281.6L252.6 282.0L255.0 282.4L257.4 282.8L259.9 283.1L262.3 283.4L264.8 283.6L267.2 283.8L269.6 283.9L272.1 284.0L274.5 284.0L277.0 284.0L279.4 283.8L280.2 284.4L281.5 281.9L282.1 284.5L282.9 281.1L284.1 284.6L285.0 281.2L285.9 284.9L287.0 279.9L287.9 284.3L288.8 280.9L290.1 284.0L291.6 278.2L292.3 284.9L293.8 279.1L294.3 284.1L295.5 276.7L296.4 284.6L297.5 278.6L299.1 283.8L301.0 273.9L301.7 284.9L303.1 275.5L303.7 285.1L304.6 269.3L305.7 284.3L306.2 265.0L307.7 283.9L308.7 260.0L309.9 283.9L311.2 238.9L311.9 285.8" stroke="#eea4ae" stroke-dasharray="6.8 7.2" stroke-dashoffset="11.3"/>
<path d="M61.1 158.4L61.9 159.7L63.1 161.2L64.5 162.7L65.9 164.3L67.2 165.3L68.4 165.5L69.6 165.8L70.9 165.6L72.1 164.5L73.3 163.8L74.5 163.0L75.7 162.1L77.0 161.4L78.2 160.9L79.4 159.6L80.6 157.5L81.8 156.4L83.1 155.4L84.3 154.5L85.5 154.2L86.7 152.7L87.9 150.5L89.2 148.3L90.4 146.4L91.6 145.3L92.9 143.8L94.2 143.0L95.4 142.5L96.6 140.7L97.7 140.5L98.6 140.2L99.4 140.2L100.1 141.3L100.7 140.9L101.4 140.9L101.9 141.3L102.2 141.7L102.6 143.2L103.1 144.4L103.8 145.1L104.8 145.7L106.0 145.5L107.3 144.8L108.6 145.1L109.9 145.7L111.1 146.9L112.3 148.7L113.5 150.5L114.8 151.8L116.0 153.5L117.2 155.0L118.4 156.2L119.6 158.1L120.9 159.7L122.1 162.2L123.3 164.2L124.5 166.5L125.7 169.4L127.0 172.0L128.2 174.9L129.4 177.0L130.6 179.1L131.8 181.5L133.1 183.3L134.3 186.4L135.5 189.1L136.8 192.1L138.1 196.0L139.3 198.9L140.4 202.7L141.3 206.5L142.0 209.7L142.7 212.4L143.3 213.3L144.0 213.6L144.8 213.2L145.5 212.3L146.2 210.6L147.0 208.0L147.7 206.1L148.4 205.0L149.2 203.1L149.9 201.9L150.6 200.6L151.4 199.8L152.1 200.1L152.8 200.8L153.5 202.3L154.3 204.2L155.0 206.4L155.7 207.8L156.4 208.6L157.0 210.0L157.8 212.7L158.7 215.9L159.7 220.0L160.9 224.4L162.2 229.1L163.5 233.7L164.8 237.6L166.0 240.9L167.2 243.9L168.4 246.5L169.6 248.8L170.9 250.7L172.1 252.0L173.3 252.7L174.5 253.1L175.7 253.5L177.0 254.1L178.2 255.0L179.4 255.9L180.6 256.8L181.8 257.8L183.1 258.8L184.3 259.8L185.5 260.6L186.7 261.6L187.9 262.8L189.2 264.5L190.4 266.8L191.6 269.6L192.8 272.7L194.0 275.7L195.3 278.3L196.5 280.4L197.7 282.4L198.9 284.2L200.1 285.7L201.4 286.8L202.6 287.4L203.8 287.7L205.0 287.6L206.2 287.4L207.4 287.1L208.6 286.7L209.6 286.0L210.7 285.2L211.9 284.4L213.5 283.6L215.6 282.9L218.0 282.1L220.6 281.4L223.2 280.7L225.7 280.1L228.2 279.5L230.6 278.9L233.1 278.4L235.5 278.1L237.9 278.1L240.4 278.4L242.8 279.0L245.3 279.8L247.7 280.5L250.1 281.1L252.6 281.4L255.0 281.7L257.4 281.9L259.9 282.0L262.3 282.2L264.8 282.4L267.2 282.6L269.6 282.7L272.1 282.8L274.5 282.8L277.0 282.8L279.4 282.6L280.2 283.1L280.8 280.2L282.1 282.4L283.7 278.9L284.1 282.7L285.1 280.0L285.9 283.2L286.6 278.1L287.9 283.5L289.4 279.5L290.1 282.6L291.6 277.0L292.3 283.9L293.0 278.1L294.3 282.1L294.9 274.3L296.4 282.5L298.0 277.0L299.1 282.8L300.8 270.5L301.7 283.5L302.8 274.8L303.7 282.8L305.1 268.8L305.7 283.9L307.1 266.0L307.7 282.3L309.2 255.5L309.9 282.2L311.2 239.9L311.9 284.6" stroke="#f3b4bd"/>
<path d="M61.1 161.2L61.9 161.7L63.1 162.8L64.5 164.6L65.9 166.4L67.2 167.2L68.4 168.5L69.6 168.3L70.9 168.3L72.1 168.8L73.3 168.3L74.5 168.4L75.7 167.9L77.0 167.6L78.2 167.0L79.4 166.0L80.6 164.7L81.8 163.3L83.1 161.4L84.3 159.6L85.5 157.8L86.7 155.6L87.9 154.0L89.2 152.2L90.4 149.9L91.6 148.0L92.9 145.7L94.2 144.0L95.4 143.5L96.6 143.7L97.7 144.1L98.6 145.0L99.4 145.2L100.1 145.1L100.7 145.5L101.4 145.6L101.9 146.4L102.2 146.3L102.6 146.7L103.1 147.3L103.8 146.8L104.8 147.5L106.0 147.2L107.3 147.2L108.6 148.5L109.9 148.4L111.1 149.8L112.3 150.8L113.5 152.1L114.8 154.6L116.0 156.4L117.2 158.4L118.4 160.1L119.6 162.0L120.9 164.0L122.1 165.9L123.3 167.7L124.5 170.0L125.7 172.0L127.0 174.8L128.2 177.8L129.4 179.4L130.6 180.8L131.8 182.2L133.1 183.4L134.3 185.9L135.5 189.1L136.8 192.4L138.1 195.0L139.3 197.5L140.4 200.0L141.3 202.6L142.0 206.3L142.7 209.4L143.3 212.6L144.0 214.0L144.8 214.1L145.5 212.6L146.2 210.2L147.0 207.8L147.7 205.7L148.4 204.4L149.2 202.4L149.9 201.2L150.6 200.4L151.4 200.1L152.1 199.9L152.8 201.1L153.5 202.1L154.3 203.8L155.0 206.0L155.7 207.4L156.4 209.5L157.0 211.7L157.8 213.8L158.7 216.4L159.7 219.9L160.9 223.8L162.2 228.1L163.5 232.4L164.8 236.2L166.0 239.5L167.2 242.7L168.4 245.7L169.6 248.3L170.9 250.6L172.1 252.4L173.3 253.9L174.5 255.0L175.7 256.0L177.0 257.0L178.2 257.8L179.4 258.3L180.6 258.8L181.8 259.4L183.1 260.3L184.3 261.6L185.5 263.0L186.7 264.6L187.9 266.3L189.2 268.1L190.4 270.0L191.6 271.9L192.8 274.0L194.0 276.0L195.3 277.9L196.5 279.7L197.7 281.6L198.9 283.4L200.1 284.9L201.4 286.0L202.6 286.7L203.8 287.1L205.0 287.2L206.2 287.1L207.4 286.8L208.6 286.1L209.6 285.1L210.7 284.0L211.9 282.8L213.5 281.8L215.6 281.0L218.0 280.3L220.6 279.6L223.2 279.0L225.7 278.5L228.2 278.1L230.6 277.8L233.1 277.6L235.5 277.5L237.9 277.5L240.4 277.6L242.8 277.7L245.3 278.0L247.7 278.4L250.1 278.8L252.6 279.4L255.0 280.1L257.4 280.8L259.9 281.5L262.3 282.0L264.8 282.3L267.2 282.4L269.6 282.4L272.1 282.3L274.5 282.3L277.0 282.2L279.4 282.1L280.2 283.1L280.7 280.1L282.1 282.4L283.5 279.1L284.1 281.9L285.3 279.5L285.9 282.1L287.0 278.6L287.9 282.0L288.9 278.7L290.1 283.0L291.6 276.6L292.3 282.5L293.8 277.8L294.3 282.5L295.8 275.3L296.4 281.8L297.3 276.9L299.1 283.1L300.5 271.6L301.7 281.6L302.2 275.3L303.7 283.3L304.4 270.3L305.7 282.9L306.8 265.4L307.7 282.3L309.1 259.5L309.9 283.5L311.1 242.5L311.9 284.1" stroke="#f3b4bd"/>
<path d="M61.1 173.7L61.9 174.5L63.1 175.0L64.5 176.6L65.9 177.2L67.2 177.4L68.4 177.9L69.6 177.5L70.9 177.4L72.1 176.5L73.3 176.2L74.5 175.9L75.7 175.6L77.0 176.0L78.2 175.3L79.4 174.7L80.6 173.4L81.8 173.0L83.1 171.5L84.3 171.0L85.5 170.4L86.7 167.8L87.9 165.8L89.2 161.8L90.4 158.9L91.6 157.2L92.9 156.9L94.2 157.0L95.4 156.8L96.6 156.9L97.7 156.2L98.6 155.8L99.4 156.1L100.1 156.3L100.7 156.6L101.4 156.8L101.9 156.6L102.2 156.0L102.6 155.4L103.1 155.8L103.8 156.4L104.8 156.8L106.0 158.0L107.3 158.0L108.6 158.8L109.9 159.4L111.1 160.3L112.3 162.5L113.5 163.7L114.8 165.5L116.0 166.5L117.2 167.7L118.4 169.4L119.6 171.3L120.9 173.3L122.1 176.0L123.3 179.0L124.5 182.4L125.7 186.4L127.0 189.7L128.2 192.8L129.4 195.8L130.6 198.4L131.8 201.5L133.1 204.4L134.3 207.8L135.5 211.4L136.8 214.7L138.1 217.8L139.3 220.7L140.4 223.7L141.3 225.4L142.0 228.0L142.7 229.0L143.3 229.8L144.0 230.1L144.8 229.3L145.5 227.9L146.2 225.2L147.0 223.7L147.7 221.8L148.4 221.3L149.2 220.7L149.9 219.8L150.6 219.7L151.4 219.6L152.1 219.6L152.8 220.2L153.5 220.7L154.3 221.6L155.0 223.3L155.7 223.8L156.4 226.1L157.0 228.1L157.8 230.0L158.7 233.4L159.7 235.2L160.9 237.0L162.2 239.4L163.5 241.8L164.8 244.2L166.0 246.8L167.2 249.5L168.4 252.1L169.6 254.5L170.9 256.4L172.1 257.7L173.3 258.5L174.5 259.1L175.7 259.6L177.0 260.2L178.2 261.1L179.4 262.0L180.6 262.9L181.8 263.9L183.1 264.9L184.3 265.9L185.5 266.9L186.7 267.9L187.9 269.1L189.2 270.5L190.4 272.1L191.6 273.9L192.8 275.9L194.0 277.8L195.3 279.6L196.5 281.2L197.7 282.9L198.9 284.4L200.1 285.7L201.4 286.8L202.6 287.5L203.8 287.9L205.0 288.0L206.2 288.0L207.4 287.9L208.6 287.6L209.6 287.1L210.7 286.5L211.9 285.8L213.5 285.1L215.6 284.2L218.0 283.2L220.6 282.1L223.2 281.2L225.7 280.5L228.2 280.0L230.6 279.7L233.1 279.6L235.5 279.5L237.9 279.6L240.4 279.9L242.8 280.3L245.3 280.9L247.7 281.5L250.1 281.9L252.6 282.3L255.0 282.7L257.4 283.1L259.9 283.4L262.3 283.7L264.8 283.9L267.2 284.2L269.6 284.4L272.1 284.5L274.5 284.5L277.0 284.3L279.4 284.0L280.2 284.8L281.2 281.9L282.1 285.1L283.4 280.2L284.1 284.7L285.2 281.1L285.9 284.8L286.3 279.6L287.9 284.9L288.7 280.2L290.1 285.3L291.3 277.5L292.3 284.0L293.1 278.6L294.3 284.3L294.8 277.0L296.4 284.6L297.1 278.5L299.1 284.4L300.3 271.1L301.7 283.8L302.2 274.9L303.7 284.0L305.2 269.7L305.7 284.4L307.0 263.7L307.7 283.7L309.0 255.2L309.9 283.8L310.8 234.6L311.9 286.0" stroke="#f6c6cd"/>
<path d="M61.1 177.4L61.9 177.9L63.1 179.3L64.5 180.0L65.9 180.9L67.2 181.3L68.4 181.2L69.6 179.9L70.9 178.9L72.1 178.1L73.3 176.5L74.5 176.6L75.7 175.7L77.0 175.9L78.2 175.7L79.4 174.9L80.6 174.5L81.8 173.1L83.1 172.2L84.3 170.2L85.5 168.2L86.7 166.2L87.9 164.4L89.2 162.5L90.4 160.4L91.6 159.5L92.9 158.6L94.2 157.7L95.4 157.8L96.6 157.1L97.7 156.0L98.6 156.6L99.4 156.9L100.1 157.7L100.7 158.8L101.4 159.5L101.9 159.4L102.2 159.1L102.6 158.4L103.1 157.6L103.8 157.8L104.8 157.9L106.0 158.6L107.3 160.0L108.6 161.3L109.9 163.0L111.1 164.6L112.3 165.2L113.5 165.5L114.8 165.7L116.0 167.0L117.2 168.1L118.4 169.0L119.6 170.4L120.9 171.1L122.1 172.3L123.3 174.6L124.5 176.1L125.7 178.2L127.0 180.6L128.2 182.6L129.4 184.5L130.6 186.9L131.8 189.0L133.1 191.2L134.3 194.2L135.5 195.9L136.8 198.5L138.1 201.2L139.3 203.4L140.4 205.7L141.3 207.8L142.0 210.6L142.7 213.1L143.3 215.4L144.0 216.5L144.8 216.2L145.5 214.8L146.2 213.2L147.0 211.5L147.7 209.3L148.4 207.9L149.2 205.6L149.9 203.1L150.6 202.2L151.4 201.2L152.1 200.9L152.8 202.0L153.5 202.5L154.3 204.3L155.0 206.5L155.7 207.6L156.4 209.2L157.0 210.7L157.8 212.9L158.7 216.2L159.7 220.3L160.9 223.9L162.2 228.7L163.5 233.3L164.8 237.3L166.0 240.8L167.2 244.2L168.4 247.3L169.6 249.8L170.9 251.7L172.1 252.7L173.3 252.8L174.5 252.6L175.7 252.4L177.0 252.7L178.2 253.6L179.4 254.7L180.6 256.1L181.8 257.5L183.1 258.9L184.3 260.3L185.5 261.6L186.7 263.0L187.9 264.5L189.2 266.3L190.4 268.4L191.6 270.9L192.8 273.6L194.0 276.1L195.3 278.3L196.5 280.2L197.7 282.1L198.9 283.7L200.1 285.1L201.4 286.1L202.6 286.8L203.8 287.1L205.0 287.2L206.2 287.1L207.4 287.0L208.6 286.7L209.6 286.3L210.7 285.7L211.9 285.1L213.5 284.5L215.6 283.8L218.0 283.0L220.6 282.2L223.2 281.5L225.7 280.9L228.2 280.4L230.6 280.1L233.1 279.8L235.5 279.7L237.9 279.8L240.4 280.1L242.8 280.6L245.3 281.2L247.7 281.8L250.1 282.3L252.6 282.5L255.0 282.5L257.4 282.6L259.9 282.6L262.3 282.8L264.8 283.2L267.2 283.8L269.6 284.4L272.1 284.9L274.5 285.1L277.0 285.0L279.4 284.5L280.2 285.9L281.4 282.6L282.1 284.5L283.7 281.0L284.1 285.2L285.4 282.2L285.9 284.6L286.2 279.5L287.9 285.5L289.2 281.3L290.1 284.7L291.1 277.9L292.3 285.6L292.8 278.8L294.3 285.3L295.1 277.0L296.4 285.6L297.7 278.5L299.1 284.4L300.9 273.3L301.7 285.4L302.7 274.5L303.7 284.9L305.0 271.2L305.7 285.1L306.3 267.8L307.7 284.9L308.7 256.6L309.9 284.6L311.1 241.1L311.9 286.5" stroke="#f3b4bd"/>
<path d="M61.1 177.3L61.9 177.9L63.1 178.8L64.5 180.7L65.9 181.2L67.2 182.5L68.4 182.6L69.6 182.2L70.9 182.1L72.1 180.7L73.3 180.1L74.5 179.8L75.7 180.0L77.0 180.7L78.2 180.7L79.4 180.1L80.6 178.6L81.8 176.6L83.1 174.9L84.3 172.9L85.5 170.9L86.7 168.7L87.9 166.8L89.2 165.1L90.4 163.5L91.6 163.4L92.9 163.3L94.2 163.4L95.4 163.3L96.6 163.0L97.7 162.6L98.6 162.8L99.4 163.3L100.1 163.3L100.7 163.5L101.4 163.4L101.9 162.7L102.2 161.8L102.6 160.4L103.1 159.7L103.8 159.8L104.8 160.3L106.0 161.1L107.3 162.3L108.6 163.5L109.9 164.8L111.1 165.8L112.3 166.4L113.5 168.0L114.8 168.8L116.0 170.3L117.2 171.6L118.4 171.8L119.6 172.7L120.9 173.7L122.1 175.5L123.3 178.0L124.5 179.9L125.7 182.0L127.0 183.8L128.2 185.1L129.4 187.2L130.6 188.2L131.8 189.0L133.1 190.0L134.3 191.4L135.5 193.8L136.8 196.1L138.1 198.9L139.3 201.6L140.4 204.5L141.3 207.2L142.0 210.1L142.7 213.5L143.3 215.4L144.0 216.9L144.8 217.3L145.5 215.3L146.2 213.3L147.0 211.6L147.7 209.0L148.4 207.6L149.2 206.0L149.9 204.4L150.6 203.7L151.4 203.6L152.1 203.6L152.8 204.3L153.5 204.7L154.3 204.9L155.0 206.4L155.7 207.8L156.4 209.9L157.0 212.1L157.8 214.3L158.7 217.4L159.7 221.2L160.9 226.1L162.2 230.5L163.5 234.7L164.8 238.4L166.0 241.6L167.2 244.6L168.4 247.3L169.6 249.6L170.9 251.6L172.1 253.1L173.3 254.2L174.5 255.0L175.7 255.7L177.0 256.4L178.2 257.2L179.4 257.8L180.6 258.5L181.8 259.2L183.1 260.2L184.3 261.5L185.5 262.9L186.7 264.4L187.9 266.1L189.2 268.0L190.4 270.3L191.6 272.8L192.8 275.5L194.0 278.0L195.3 280.1L196.5 281.8L197.7 283.3L198.9 284.6L200.1 285.7L201.4 286.5L202.6 287.1L203.8 287.4L205.0 287.6L206.2 287.6L207.4 287.5L208.6 287.4L209.6 287.1L210.7 286.7L211.9 286.2L213.5 285.7L215.6 285.0L218.0 284.2L220.6 283.3L223.2 282.6L225.7 282.0L228.2 281.6L230.6 281.3L233.1 281.1L235.5 281.0L237.9 281.0L240.4 281.2L242.8 281.5L245.3 282.0L247.7 282.4L250.1 282.8L252.6 283.2L255.0 283.6L257.4 283.9L259.9 284.2L262.3 284.5L264.8 284.7L267.2 284.9L269.6 285.1L272.1 285.2L274.5 285.2L277.0 285.1L279.4 284.9L280.2 286.1L280.7 283.1L282.1 284.7L283.1 282.3L284.1 285.4L285.2 282.8L285.9 286.1L286.3 281.2L287.9 285.1L288.8 281.9L290.1 284.4L291.2 280.2L292.3 285.2L292.8 280.6L294.3 285.1L295.4 279.3L296.4 284.7L297.6 280.0L299.1 286.0L300.5 274.9L301.7 284.6L302.4 279.1L303.7 284.9L304.5 274.4L305.7 285.2L307.1 269.7L307.7 285.5L308.7 265.1L309.9 286.3L311.5 246.3L311.9 286.9" stroke="#eea4ae" stroke-dasharray="6.8 7.2" stroke-dashoffset="4.4"/>
<path d="M61.1 184.6L61.9 184.9L63.1 185.8L64.5 186.4L65.9 187.1L67.2 187.9L68.4 188.4L69.6 188.1L70.9 187.4L72.1 185.7L73.3 183.9L74.5 183.7L75.7 182.3L77.0 182.1L78.2 181.5L79.4 180.4L80.6 180.7L81.8 180.7L83.1 180.7L84.3 180.3L85.5 179.3L86.7 177.5L87.9 176.1L89.2 174.3L90.4 172.1L91.6 170.8L92.9 169.0L94.2 167.3L95.4 166.4L96.6 165.0L97.7 164.2L98.6 164.2L99.4 164.3L100.1 164.9L100.7 165.1L101.4 165.8L101.9 166.4L102.2 166.8L102.6 167.7L103.1 167.1L103.8 166.8L104.8 166.3L106.0 165.9L107.3 166.4L108.6 166.5L109.9 167.0L111.1 167.7L112.3 168.0L113.5 168.2L114.8 169.6L116.0 171.5L117.2 173.5L118.4 176.4L119.6 178.2L120.9 180.2L122.1 183.6L123.3 186.7L124.5 191.0L125.7 195.2L127.0 199.4L128.2 203.9L129.4 208.4L130.6 212.3L131.8 216.0L133.1 219.6L134.3 222.8L135.5 226.7L136.8 230.4L138.1 234.0L139.3 237.3L140.4 240.1L141.3 242.2L142.0 243.5L142.7 244.6L143.3 245.2L144.0 245.1L144.8 245.0L145.5 244.7L146.2 243.3L147.0 241.7L147.7 240.5L148.4 238.7L149.2 237.2L149.9 236.8L150.6 236.3L151.4 236.0L152.1 236.5L152.8 236.9L153.5 237.0L154.3 238.5L155.0 239.7L155.7 240.4L156.4 241.7L157.0 242.9L157.8 244.5L158.7 246.0L159.7 248.0L160.9 250.0L162.2 252.2L163.5 254.3L164.8 256.0L166.0 257.5L167.2 258.7L168.4 259.8L169.6 260.7L170.9 261.6L172.1 262.4L173.3 263.0L174.5 263.6L175.7 264.1L177.0 264.8L178.2 265.6L179.4 266.5L180.6 267.4L181.8 268.4L183.1 269.4L184.3 270.5L185.5 271.7L186.7 273.0L187.9 274.3L189.2 275.5L190.4 276.7L191.6 277.9L192.8 279.0L194.0 280.2L195.3 281.3L196.5 282.6L197.7 284.0L198.9 285.3L200.1 286.5L201.4 287.4L202.6 288.0L203.8 288.5L205.0 288.8L206.2 288.9L207.4 288.6L208.6 287.9L209.6 286.7L210.7 285.4L211.9 284.1L213.5 283.0L215.6 282.2L218.0 281.5L220.6 280.9L223.2 280.4L225.7 279.9L228.2 279.4L230.6 278.9L233.1 278.5L235.5 278.2L237.9 278.2L240.4 278.5L242.8 279.1L245.3 279.9L247.7 280.7L250.1 281.2L252.6 281.5L255.0 281.7L257.4 281.8L259.9 282.0L262.3 282.2L264.8 282.5L267.2 283.0L269.6 283.4L272.1 283.7L274.5 283.9L277.0 283.8L279.4 283.4L280.2 283.3L281.4 281.6L282.1 283.4L283.0 280.7L284.1 283.3L285.4 281.5L285.9 283.5L286.8 280.0L287.9 284.2L289.1 281.1L290.1 283.5L290.8 279.1L292.3 283.0L292.8 279.7L294.3 283.7L294.8 276.8L296.4 284.8L297.7 279.1L299.1 284.0L300.3 275.1L301.7 284.6L302.3 277.2L303.7 283.8L305.0 272.2L305.7 284.9L306.7 270.1L307.7 283.4L308.9 260.5L309.9 283.2L311.6 238.7L311.9 285.4" stroke="#eea4ae"/>
<path d="M61.1 185.6L61.9 186.9L63.1 188.5L64.5 190.0L65.9 191.2L67.2 191.1L68.4 190.8L69.6 190.0L70.9 189.0L72.1 188.5L73.3 187.8L74.5 187.6L75.7 187.7L77.0 187.7L78.2 187.9L79.4 186.8L80.6 185.5L81.8 184.6L83.1 182.2L84.3 180.8L85.5 179.7L86.7 177.8L87.9 176.9L89.2 175.8L90.4 174.4L91.6 173.5L92.9 172.0L94.2 171.2L95.4 170.5L96.6 170.2L97.7 170.1L98.6 170.2L99.4 170.4L100.1 170.4L100.7 170.5L101.4 170.1L101.9 170.0L102.2 169.7L102.6 170.3L103.1 170.5L103.8 170.4L104.8 170.5L106.0 169.6L107.3 169.4L108.6 168.8L109.9 168.7L111.1 169.3L112.3 170.0L113.5 171.2L114.8 172.5L116.0 174.0L117.2 175.6L118.4 177.2L119.6 179.9L120.9 181.5L122.1 183.4L123.3 185.8L124.5 186.6L125.7 188.8L127.0 190.7L128.2 193.1L129.4 196.3L130.6 199.8L131.8 203.7L133.1 207.2L134.3 210.7L135.5 213.4L136.8 216.4L138.1 218.3L139.3 220.4L140.4 222.6L141.3 224.8L142.0 227.9L142.7 230.1L143.3 232.0L144.0 233.0L144.8 231.9L145.5 230.0L146.2 227.7L147.0 224.4L147.7 222.9L148.4 221.3L149.2 220.0L149.9 219.4L150.6 218.0L151.4 217.7L152.1 218.0L152.8 218.5L153.5 219.8L154.3 220.7L155.0 222.0L155.7 223.2L156.4 223.9L157.0 225.9L157.8 227.6L158.7 229.3L159.7 232.4L160.9 234.8L162.2 237.8L163.5 240.7L164.8 243.4L166.0 245.7L167.2 248.0L168.4 250.1L169.6 252.0L170.9 253.8L172.1 255.4L173.3 256.8L174.5 258.0L175.7 259.2L177.0 260.3L178.2 261.2L179.4 261.9L180.6 262.6L181.8 263.3L183.1 264.2L184.3 265.3L185.5 266.4L186.7 267.6L187.9 269.0L189.2 270.6L190.4 272.5L191.6 274.7L192.8 277.1L194.0 279.3L195.3 281.1L196.5 282.6L197.7 283.9L198.9 285.0L200.1 286.0L201.4 286.7L202.6 287.4L203.8 287.9L205.0 288.2L206.2 288.3L207.4 288.0L208.6 287.2L209.6 286.0L210.7 284.5L211.9 283.1L213.5 281.9L215.6 281.0L218.0 280.2L220.6 279.5L223.2 278.9L225.7 278.4L228.2 277.8L230.6 277.4L233.1 277.0L235.5 276.8L237.9 276.9L240.4 277.3L242.8 278.1L245.3 279.0L247.7 279.9L250.1 280.5L252.6 280.8L255.0 281.0L257.4 281.1L259.9 281.1L262.3 281.2L264.8 281.4L267.2 281.7L269.6 281.9L272.1 282.0L274.5 282.0L277.0 281.8L279.4 281.5L280.2 281.7L280.6 279.7L282.1 281.5L283.0 278.9L284.1 281.9L285.2 279.5L285.9 282.2L286.6 278.2L287.9 281.4L289.5 278.6L290.1 282.7L291.2 276.2L292.3 282.2L293.2 276.7L294.3 282.2L294.8 275.2L296.4 281.5L297.2 276.0L299.1 282.4L300.3 271.8L301.7 282.0L302.3 274.0L303.7 282.4L304.8 270.7L305.7 281.2L307.0 266.8L307.7 281.5L308.5 261.9L309.9 282.5L310.9 236.6L311.9 283.5" stroke="#f6c6cd"/>
<path d="M61.1 186.5L61.9 187.1L63.1 188.4L64.5 189.4L65.9 190.4L67.2 191.5L68.4 191.7L69.6 192.0L70.9 191.5L72.1 191.3L73.3 190.8L74.5 189.9L75.7 189.2L77.0 187.4L78.2 186.3L79.4 185.1L80.6 183.3L81.8 183.0L83.1 182.1L84.3 182.2L85.5 181.5L86.7 180.7L87.9 179.3L89.2 176.8L90.4 176.0L91.6 174.4L92.9 173.9L94.2 173.5L95.4 172.8L96.6 172.1L97.7 171.6L98.6 171.5L99.4 172.2L100.1 173.5L100.7 173.7L101.4 173.9L101.9 173.1L102.2 171.8L102.6 171.6L103.1 171.0L103.8 170.4L104.8 170.1L106.0 170.2L107.3 170.5L108.6 171.1L109.9 172.2L111.1 172.5L112.3 173.1L113.5 174.0L114.8 173.7L116.0 174.6L117.2 175.8L118.4 176.6L119.6 178.6L120.9 180.4L122.1 181.6L123.3 183.0L124.5 184.5L125.7 185.2L127.0 186.2L128.2 188.2L129.4 190.5L130.6 193.3L131.8 195.9L133.1 198.3L134.3 199.9L135.5 202.3L136.8 205.4L138.1 208.2L139.3 210.9L140.4 213.2L141.3 215.2L142.0 216.8L142.7 217.8L143.3 218.5L144.0 218.4L144.8 217.6L145.5 216.6L146.2 214.8L147.0 213.2L147.7 212.0L148.4 211.2L149.2 209.8L149.9 208.8L150.6 207.5L151.4 206.8L152.1 207.4L152.8 208.2L153.5 209.0L154.3 210.8L155.0 212.7L155.7 213.7L156.4 215.4L157.0 216.3L157.8 216.9L158.7 219.1L159.7 221.9L160.9 226.2L162.2 230.5L163.5 234.8L164.8 238.5L166.0 241.6L167.2 244.5L168.4 247.2L169.6 249.5L170.9 251.4L172.1 252.9L173.3 253.8L174.5 254.5L175.7 255.1L177.0 255.7L178.2 256.3L179.4 256.7L180.6 257.1L181.8 257.7L183.1 258.7L184.3 260.3L185.5 262.2L186.7 264.3L187.9 266.5L189.2 268.7L190.4 270.9L191.6 273.2L192.8 275.5L194.0 277.7L195.3 279.6L196.5 281.3L197.7 282.8L198.9 284.2L200.1 285.4L201.4 286.3L202.6 287.0L203.8 287.5L205.0 287.7L206.2 287.7L207.4 287.5L208.6 286.9L209.6 285.9L210.7 284.8L211.9 283.6L213.5 282.6L215.6 281.7L218.0 280.9L220.6 280.1L223.2 279.5L225.7 278.9L228.2 278.4L230.6 278.0L233.1 277.7L235.5 277.5L237.9 277.4L240.4 277.6L242.8 278.0L245.3 278.5L247.7 278.9L250.1 279.3L252.6 279.7L255.0 280.0L257.4 280.3L259.9 280.5L262.3 280.7L264.8 280.9L267.2 281.1L269.6 281.2L272.1 281.2L274.5 281.3L277.0 281.2L279.4 281.1L280.2 282.1L280.7 279.1L282.1 281.2L282.9 277.8L284.1 282.3L285.4 279.3L285.9 280.7L286.4 277.6L287.9 281.8L288.7 278.0L290.1 281.9L291.8 276.0L292.3 280.8L293.0 276.6L294.3 281.1L295.2 274.0L296.4 282.0L297.6 276.6L299.1 282.0L300.4 271.3L301.7 282.5L303.1 273.4L303.7 282.5L305.1 270.4L305.7 281.4L306.4 265.0L307.7 281.0L308.3 259.2L309.9 282.3L311.4 245.2L311.9 283.1" stroke="#f6c6cd"/>
<path d="M61.1 195.5L61.9 196.2L63.1 196.8L64.5 197.6L65.9 199.4L67.2 199.8L68.4 199.6L69.6 200.4L70.9 199.6L72.1 199.3L73.3 200.0L74.5 199.5L75.7 198.8L77.0 198.2L78.2 197.8L79.4 196.7L80.6 195.5L81.8 194.6L83.1 193.2L84.3 192.4L85.5 192.5L86.7 191.6L87.9 190.7L89.2 190.5L90.4 189.4L91.6 189.0L92.9 189.1L94.2 188.1L95.4 187.9L96.6 188.1L97.7 187.7L98.6 187.7L99.4 187.6L100.1 187.4L100.7 187.5L101.4 187.6L101.9 187.6L102.2 187.1L102.6 186.3L103.1 185.7L103.8 185.8L104.8 186.7L106.0 186.9L107.3 187.7L108.6 188.7L109.9 188.9L111.1 190.3L112.3 191.1L113.5 192.4L114.8 194.2L116.0 195.8L117.2 196.7L118.4 197.0L119.6 198.1L120.9 199.3L122.1 200.9L123.3 203.2L124.5 205.5L125.7 207.8L127.0 210.6L128.2 213.5L129.4 215.7L130.6 218.1L131.8 221.3L133.1 224.4L134.3 227.7L135.5 231.3L136.8 234.1L138.1 236.3L139.3 238.2L140.4 239.6L141.3 240.6L142.0 242.0L142.7 243.2L143.3 243.6L144.0 244.1L144.8 243.9L145.5 242.8L146.2 241.8L147.0 240.4L147.7 239.1L148.4 238.0L149.2 237.1L149.9 236.5L150.6 236.2L151.4 236.0L152.1 236.6L152.8 237.7L153.5 238.1L154.3 239.0L155.0 239.4L155.7 239.5L156.4 240.2L157.0 241.5L157.8 241.8L158.7 243.7L159.7 246.7L160.9 248.5L162.2 251.1L163.5 253.6L164.8 255.8L166.0 257.6L167.2 259.2L168.4 260.7L169.6 262.1L170.9 263.4L172.1 264.6L173.3 265.7L174.5 266.7L175.7 267.6L177.0 268.6L178.2 269.4L179.4 270.3L180.6 271.0L181.8 271.8L183.1 272.6L184.3 273.5L185.5 274.3L186.7 275.2L187.9 276.1L189.2 277.2L190.4 278.3L191.6 279.5L192.8 280.8L194.0 282.1L195.3 283.2L196.5 284.2L197.7 285.2L198.9 286.0L200.1 286.8L201.4 287.4L202.6 287.9L203.8 288.4L205.0 288.6L206.2 288.7L207.4 288.4L208.6 287.7L209.6 286.7L210.7 285.4L211.9 284.2L213.5 283.2L215.6 282.3L218.0 281.5L220.6 280.8L223.2 280.3L225.7 279.8L228.2 279.5L230.6 279.3L233.1 279.2L235.5 279.2L237.9 279.3L240.4 279.6L242.8 280.0L245.3 280.6L247.7 281.1L250.1 281.5L252.6 281.8L255.0 282.0L257.4 282.2L259.9 282.4L262.3 282.7L264.8 282.9L267.2 283.2L269.6 283.5L272.1 283.7L274.5 283.8L277.0 283.8L279.4 283.8L280.2 284.5L280.6 282.2L282.1 284.3L282.9 281.1L284.1 284.1L285.0 281.8L285.9 283.6L286.6 280.4L287.9 283.7L289.4 281.2L290.1 285.2L291.4 279.6L292.3 284.8L293.6 279.3L294.3 284.6L295.0 277.6L296.4 284.4L297.8 278.5L299.1 285.2L301.1 275.6L301.7 285.2L303.1 276.8L303.7 285.0L305.1 271.8L305.7 283.5L306.6 270.9L307.7 285.0L308.7 265.2L309.9 283.6L311.0 241.1L311.9 285.8" stroke="#f3b4bd"/>
<path d="M61.1 199.2L61.9 199.8L63.1 200.8L64.5 202.1L65.9 202.8L67.2 203.3L68.4 203.6L69.6 203.4L70.9 202.7L72.1 202.3L73.3 201.7L74.5 201.5L75.7 202.0L77.0 201.3L78.2 201.3L79.4 200.9L80.6 200.8L81.8 200.6L83.1 199.7L84.3 199.0L85.5 198.0L86.7 197.2L87.9 196.3L89.2 195.3L90.4 194.2L91.6 193.7L92.9 193.0L94.2 193.3L95.4 194.4L96.6 194.7L97.7 195.9L98.6 196.8L99.4 196.6L100.1 197.9L100.7 198.5L101.4 198.7L101.9 199.0L102.2 198.0L102.6 197.2L103.1 196.2L103.8 195.7L104.8 196.6L106.0 197.3L107.3 197.3L108.6 198.3L109.9 198.4L111.1 198.8L112.3 200.4L113.5 201.7L114.8 203.8L116.0 205.8L117.2 206.8L118.4 207.3L119.6 206.8L120.9 206.5L122.1 206.8L123.3 207.1L124.5 208.4L125.7 209.9L127.0 210.9L128.2 212.2L129.4 213.1L130.6 214.6L131.8 216.9L133.1 219.3L134.3 221.1L135.5 222.2L136.8 223.5L138.1 224.9L139.3 226.4L140.4 228.1L141.3 229.7L142.0 231.5L142.7 233.5L143.3 235.0L144.0 236.2L144.8 235.3L145.5 234.1L146.2 232.8L147.0 230.4L147.7 228.8L148.4 227.4L149.2 225.6L149.9 224.2L150.6 223.3L151.4 222.2L152.1 221.8L152.8 222.0L153.5 223.5L154.3 225.2L155.0 227.3L155.7 228.8L156.4 229.6L157.0 231.2L157.8 232.3L158.7 233.7L159.7 236.5L160.9 239.2L162.2 242.1L163.5 244.9L164.8 247.4L166.0 249.6L167.2 251.7L168.4 253.6L169.6 255.3L170.9 256.8L172.1 257.9L173.3 258.8L174.5 259.6L175.7 260.3L177.0 261.1L178.2 262.0L179.4 262.9L180.6 263.7L181.8 264.6L183.1 265.5L184.3 266.3L185.5 267.1L186.7 267.8L187.9 268.8L189.2 270.1L190.4 271.9L191.6 274.1L192.8 276.4L194.0 278.7L195.3 280.6L196.5 282.3L197.7 283.8L198.9 285.1L200.1 286.3L201.4 287.2L202.6 287.8L203.8 288.3L205.0 288.5L206.2 288.4L207.4 287.9L208.6 287.0L209.6 285.6L210.7 284.0L211.9 282.4L213.5 281.1L215.6 280.2L218.0 279.3L220.6 278.6L223.2 278.0L225.7 277.6L228.2 277.2L230.6 277.0L233.1 276.9L235.5 276.9L237.9 277.0L240.4 277.3L242.8 277.8L245.3 278.4L247.7 278.9L250.1 279.3L252.6 279.5L255.0 279.6L257.4 279.7L259.9 279.7L262.3 279.8L264.8 280.0L267.2 280.3L269.6 280.5L272.1 280.7L274.5 280.8L277.0 280.7L279.4 280.6L280.2 280.5L280.7 279.2L282.1 282.0L283.0 278.4L284.1 281.2L284.7 278.9L285.9 280.6L287.1 277.7L287.9 280.7L288.9 278.5L290.1 280.7L291.2 276.7L292.3 280.1L293.8 277.4L294.3 281.8L295.6 276.1L296.4 280.3L297.6 276.4L299.1 280.4L300.7 272.5L301.7 280.9L303.0 274.5L303.7 281.5L304.6 271.4L305.7 281.5L307.1 268.4L307.7 281.5L308.5 263.6L309.9 280.4L311.3 246.2L311.9 282.6" stroke="#eea4ae"/>
<path d="M61.1 217.3L61.9 217.8L63.1 218.2L64.5 219.6L65.9 220.2L67.2 221.4L68.4 221.7L69.6 221.3L70.9 221.3L72.1 220.8L73.3 220.4L74.5 219.6L75.7 217.5L77.0 215.7L78.2 214.6L79.4 212.9L80.6 212.3L81.8 211.3L83.1 209.6L84.3 208.9L85.5 207.4L86.7 206.5L87.9 205.6L89.2 204.3L90.4 203.6L91.6 202.9L92.9 203.5L94.2 204.1L95.4 204.7L96.6 204.5L97.7 203.8L98.6 204.1L99.4 204.3L100.1 205.1L100.7 205.7L101.4 204.9L101.9 204.4L102.2 204.3L102.6 203.8L103.1 204.2L103.8 205.6L104.8 205.9L106.0 207.3L107.3 208.1L108.6 208.7L109.9 209.6L111.1 210.0L112.3 211.5L113.5 212.2L114.8 213.0L116.0 213.6L117.2 213.6L118.4 214.6L119.6 215.3L120.9 216.1L122.1 217.3L123.3 217.8L124.5 218.6L125.7 218.8L127.0 219.5L128.2 221.0L129.4 222.7L130.6 225.7L131.8 227.6L133.1 229.6L134.3 231.2L135.5 232.6L136.8 234.0L138.1 234.5L139.3 235.0L140.4 236.1L141.3 236.7L142.0 238.4L142.7 240.0L143.3 241.2L144.0 242.2L144.8 242.0L145.5 241.3L146.2 239.6L147.0 238.7L147.7 237.1L148.4 235.4L149.2 233.9L149.9 232.0L150.6 230.8L151.4 230.8L152.1 230.2L152.8 230.8L153.5 232.4L154.3 232.9L155.0 234.5L155.7 235.5L156.4 235.5L157.0 236.8L157.8 238.2L158.7 239.8L159.7 242.6L160.9 244.9L162.2 247.4L163.5 249.8L164.8 252.0L166.0 253.8L167.2 255.4L168.4 256.9L169.6 258.3L170.9 259.7L172.1 261.0L173.3 262.2L174.5 263.4L175.7 264.4L177.0 265.3L178.2 266.0L179.4 266.5L180.6 266.9L181.8 267.4L183.1 268.0L184.3 268.9L185.5 269.8L186.7 270.8L187.9 271.9L189.2 273.1L190.4 274.4L191.6 275.8L192.8 277.3L194.0 278.8L195.3 280.2L196.5 281.7L197.7 283.1L198.9 284.5L200.1 285.8L201.4 286.8L202.6 287.4L203.8 287.9L205.0 288.2L206.2 288.3L207.4 288.1L208.6 287.6L209.6 286.7L210.7 285.7L211.9 284.6L213.5 283.8L215.6 283.2L218.0 282.6L220.6 282.2L223.2 281.8L225.7 281.4L228.2 281.0L230.6 280.6L233.1 280.3L235.5 280.1L237.9 280.1L240.4 280.3L242.8 280.8L245.3 281.4L247.7 282.1L250.1 282.6L252.6 283.1L255.0 283.6L257.4 284.0L259.9 284.4L262.3 284.7L264.8 284.9L267.2 285.0L269.6 285.1L272.1 285.0L274.5 285.0L277.0 284.8L279.4 284.5L280.2 285.2L281.0 282.2L282.1 284.1L283.6 280.6L284.1 285.3L285.3 282.0L285.9 285.2L286.4 280.5L287.9 284.3L288.7 280.4L290.1 285.0L291.6 277.5L292.3 285.9L293.3 278.5L294.3 284.2L295.8 277.1L296.4 285.7L297.5 277.5L299.1 284.4L300.8 272.7L301.7 285.8L302.4 275.1L303.7 284.9L304.7 270.0L305.7 285.2L306.7 265.9L307.7 285.7L308.6 254.4L309.9 285.5L311.4 231.8L311.9 286.5" stroke="#e5888f"/>
<path d="M294.1 278L295.3 270.6L296.5 278ZM299.4 276L300.7 265.8L302.0 276Z" fill="#b32525" stroke="#b32525" stroke-width="0.6"/>
<path d="M61.6 23.3L61.9 24.9L62.4 27.2L63.0 30.0L63.7 33.6L64.5 37.7L65.4 41.0L66.3 42.9L67.1 44.1L68.0 45.0L68.8 45.9L69.7 46.6L70.6 47.2L71.7 47.8L72.8 48.3L74.0 48.7L75.3 49.0L76.6 49.1L77.8 49.3L78.5 49.6L79.1 49.8L80.0 49.8L81.8 49.5L84.0 48.9L85.9 48.1L87.1 46.8L88.1 45.3L88.9 43.9L89.7 42.6L90.5 41.4L91.3 40.7L92.0 40.5L92.8 40.8L93.6 41.5L94.5 42.6L95.6 44.1L96.6 45.7L97.6 47.2L98.6 48.8L99.6 50.4L100.6 52.0L101.7 53.7L102.6 55.2L103.4 56.3L104.2 57.3L104.9 58.7L105.7 60.9L106.5 63.4L107.3 65.9L108.0 68.1L108.8 70.1L109.5 72.3L110.3 74.7L111.1 77.1L111.9 79.4L112.5 81.5L113.0 83.3L113.6 85.0L114.2 86.4L114.8 87.5L115.5 88.5L116.3 89.3L117.2 89.8L118.1 90.3L119.0 90.6L120.0 90.7L120.8 91.2L121.5 92.0L122.0 93.1L122.6 94.7L123.2 97.1L123.8 99.9L124.4 102.7L125.0 105.1L125.6 107.5L126.2 109.8L126.7 112.2L127.1 114.6L127.6 116.7L128.3 118.1L129.0 119.2L129.8 120.4L130.6 121.7L131.4 123.1L132.1 124.8L132.6 127.1L133.1 129.7L133.5 132.3L134.0 134.8L134.5 137.2L135.0 139.7L135.5 142.2L136.0 144.6L136.5 147.1L137.0 149.6L137.5 152.2L138.0 154.5L138.3 156.2L138.6 157.8L139.0 160.0L139.6 163.5L140.3 167.8L141.0 172.0L141.8 176.4L142.7 180.8L143.4 184.0L143.7 185.6L143.9 185.9L144.4 185.1L145.3 182.8L146.6 179.3L147.8 175.6L149.0 171.0L150.2 166.2L151.4 163.7L152.6 164.6L153.9 167.8L155.2 172.6L156.7 179.4L158.2 187.8L159.7 196.4L161.1 205.1L162.3 214.1L163.7 222.0L165.2 228.7L166.7 234.4L168.2 238.6L169.7 240.7L171.1 241.3L172.6 241.5L174.1 241.6L175.6 241.4L177.1 241.5L178.5 242.0L179.9 242.8L181.5 244.5L183.4 247.2L185.4 250.7L187.5 254.9L189.5 260.1L191.4 265.9L193.4 271.2L195.4 275.8L197.3 280.0L199.3 283.1L201.3 284.9L203.3 285.8L205.3 286.1L207.2 286.0L209.0 285.3L211.2 284.6L213.8 284.0L216.8 283.4L220.1 282.5L224.0 281.1L228.3 279.5L232.2 278.5L235.4 278.4L238.3 278.9L241.5 279.5L245.3 280.1L249.5 280.7L254.0 281.5L259.3 282.5L265.0 283.6L270.0 284.2L273.6 284.0L276.6 283.3L280.0 282.7L284.6 282.5L289.6 281.6L294.0 281.8L297.3 281.6L299.9 283.3L302.0 283.2L303.6 284.2L304.8 283.9L306.0 283.5L307.4 283.9L308.9 285.6L310.0 285.4L310.7 285.0L311.1 285.4L311.4 285.5" stroke="#4aa2d3" stroke-width="1.5"/>
<path d="M61.8 120.8L61.8 138.3L61.8 138.3L62.4 136.1L63.3 133.0L64.3 130.6L65.3 129.7L66.3 129.4L67.4 128.9L68.4 127.8L69.5 126.5L70.6 124.8L71.9 122.5L73.4 119.8L74.7 117.5L75.8 116.0L76.7 114.8L77.8 113.4L79.1 111.5L80.6 109.4L82.0 107.2L83.4 104.9L84.7 102.4L86.1 99.9L87.5 97.2L89.0 94.3L90.3 91.6L91.5 88.9L92.5 86.3L93.4 84.3L94.1 83.1L94.8 82.6L95.5 82.3L96.5 82.3L97.6 82.7L98.6 82.9L99.2 82.9L99.6 82.8L100.3 82.8L101.6 82.8L103.3 82.8L104.8 83.1L106.1 83.9L107.3 84.9L108.4 86.3L109.3 88.0L110.2 90.0L111.0 92.0L111.9 94.1L112.8 96.3L113.7 98.3L114.6 100.0L115.5 101.5L116.4 102.7L117.3 103.5L118.1 103.9L119.0 104.5L119.9 105.3L120.9 106.1L121.7 107.2L122.4 108.5L123.0 110.0L123.5 111.6L123.9 113.4L124.2 115.3L124.6 117.4L125.0 119.6L125.5 121.8L126.1 124.1L126.8 126.4L127.6 128.8L128.4 130.8L129.1 132.3L129.9 133.4L130.6 134.5L131.4 135.7L132.1 136.8L132.8 138.2L133.4 139.9L133.8 141.9L134.3 144.1L134.8 146.4L135.3 148.9L135.8 151.5L136.2 154.0L136.7 156.6L137.3 160.0L138.3 164.8L139.4 170.4L140.4 175.6L141.1 180.1L141.6 184.3L142.2 188.0L142.8 191.6L143.4 194.8L144.2 195.8L145.3 193.3L146.5 188.7L147.8 184.5L149.0 181.2L150.1 178.2L151.4 177.0L152.9 178.0L154.6 180.7L156.1 184.5L157.4 189.3L158.5 195.3L159.7 202.3L161.2 211.1L162.7 220.8L164.1 229.0L165.1 234.4L165.9 238.1L166.7 241.3L167.6 244.2L168.5 246.4L169.7 248.0L171.5 248.6L173.6 248.6L175.6 248.7L177.2 249.2L178.7 249.9L180.1 251.0L181.6 252.7L183.0 255.0L184.5 257.6L185.9 260.8L187.4 264.5L189.0 268.0L190.8 271.1L192.8 274.1L194.9 277.2L197.3 280.9L199.9 284.7L202.3 287.5L204.3 288.7L206.1 288.8L208.2 288.6L210.9 288.1L213.9 287.1L217.2 286.1L221.0 285.0L225.0 283.9L229.0 283.1L232.6 282.6L236.1 282.4L240.0 282.5L244.7 283.1L249.9 284.0L255.0 285.0L260.2 286.2L265.4 287.4L270.0 288.2L273.7 288.3L276.8 288.0L280.0 287.5L283.9 286.0L288.0 286.0L291.3 285.6L293.4 286.7L294.7 286.0L296.0 288.4L297.6 287.2L299.2 288.8L300.7 288.4L302.1 289.1L303.4 288.6L305.0 287.6L307.2 287.6L309.7 287.8L311.4 288.9" stroke="#151515" stroke-width="1.6"/>
</g>
<rect x="48.5" y="2.4" width="288" height="299.1" fill="none" stroke="#555" stroke-width="1"/>
<path d="M48.75 1.9 V302 H337" fill="none" stroke="#2b2b2b" stroke-width="1.5"/>
<text x="55" y="19.3" style="font-size:14px;font-weight:bold" fill="#111">(a)</text>
<!-- legend a -->
<line x1="164.2" x2="177.8" y1="14.5" y2="14.5" stroke="#c84444" stroke-width="1.4"/>
<line x1="164.2" x2="177.8" y1="36.8" y2="36.8" stroke="#c84444" stroke-width="1.4" stroke-dasharray="3.5 1.5"/>
<line x1="164.2" x2="177.8" y1="58.4" y2="58.4" stroke="#4aa3d3" stroke-width="1.4"/>
<line x1="164.2" x2="177.8" y1="79.7" y2="79.7" stroke="#111" stroke-width="1.4"/>
<text x="185.3" y="19.4" class="lg" textLength="115.3" lengthAdjust="spacingAndGlyphs"><tspan font-style="italic">Ancylonema</tspan> present</text>
<text x="185" y="40.6" class="lg" textLength="107.4" lengthAdjust="spacingAndGlyphs">Red cell-dominated</text>
<text x="185" y="63.4" class="lg" textLength="63.8" lengthAdjust="spacingAndGlyphs">Clean snow</text>
<text x="185" y="83.6" class="lg" textLength="95.6" lengthAdjust="spacingAndGlyphs">Weathering crust</text>
<!-- colorbar -->
<text x="228.8" y="119.9" style="font-size:12.8px" fill="#111" textLength="52.8" lengthAdjust="spacingAndGlyphs">Cells ml</text><text x="282.6" y="113.4" style="font-size:9.5px" fill="#111">-1</text>
<rect x="228.1" y="129" width="17.8" height="110.6" fill="url(#cb)"/>
<line x1="228.1" x2="231.6" y1="136.8" y2="136.8" stroke="#fff" stroke-width="0.8" opacity="0.8"/>
<line x1="242.4" x2="245.9" y1="136.8" y2="136.8" stroke="#fff" stroke-width="0.8" opacity="0.8"/>
<text x="253.4" y="141.8" class="lg" style="font-size:12px" textLength="27.3" lengthAdjust="spacingAndGlyphs">400k</text>
<line x1="228.1" x2="231.6" y1="162.4" y2="162.4" stroke="#fff" stroke-width="0.8" opacity="0.8"/>
<line x1="242.4" x2="245.9" y1="162.4" y2="162.4" stroke="#fff" stroke-width="0.8" opacity="0.8"/>
<text x="253.4" y="167.4" class="lg" style="font-size:12px" textLength="27.3" lengthAdjust="spacingAndGlyphs">300k</text>
<line x1="228.1" x2="231.6" y1="188.0" y2="188.0" stroke="#fff" stroke-width="0.8" opacity="0.8"/>
<line x1="242.4" x2="245.9" y1="188.0" y2="188.0" stroke="#fff" stroke-width="0.8" opacity="0.8"/>
<text x="253.4" y="193.0" class="lg" style="font-size:12px" textLength="27.3" lengthAdjust="spacingAndGlyphs">200k</text>
<line x1="228.1" x2="231.6" y1="213.7" y2="213.7" stroke="#fff" stroke-width="0.8" opacity="0.8"/>
<line x1="242.4" x2="245.9" y1="213.7" y2="213.7" stroke="#fff" stroke-width="0.8" opacity="0.8"/>
<text x="253.4" y="218.7" class="lg" style="font-size:12px" textLength="27.3" lengthAdjust="spacingAndGlyphs">100k</text>
<!-- panel b -->
<rect x="394" y="2.1" width="288.2" height="299.7" fill="none" stroke="#555" stroke-width="1"/>
<path d="M394.2 1.6 V302.1 H682.7" fill="none" stroke="#2b2b2b" stroke-width="1.5"/>
<path d="M408.0 247.7 L408.2 242.6 L408.5 238.2 L408.8 234.4 L409.0 230.9 L409.2 227.9 L409.5 225.0 L409.8 222.5 L410.0 220.1 L410.2 217.9 L410.5 215.8 L410.8 213.9 L411.0 212.0 L411.2 210.3 L411.5 208.7 L411.8 207.1 L412.0 205.6 L412.2 204.2 L412.5 202.8 L412.8 201.5 L413.0 200.3 L413.2 199.1 L413.5 197.9 L413.8 196.8 L414.0 195.8 L414.2 194.7 L414.5 193.7 L414.8 192.7 L415.0 191.8 L415.2 190.9 L415.5 190.0 L415.8 189.1 L416.0 188.3 L416.2 187.4 L416.5 186.6 L416.8 185.8 L417.0 185.1 L417.2 184.3 L417.5 183.6 L417.8 182.9 L418.0 182.2 L418.2 181.5 L418.5 180.9 L418.8 180.2 L419.0 179.6 L419.2 178.9 L419.5 178.3 L419.8 177.7 L420.0 177.1 L422.0 172.8 L424.0 168.9 L426.0 165.5 L428.0 162.5 L430.0 159.6 L432.0 157.1 L434.0 154.7 L436.0 152.5 L438.0 150.4 L440.0 148.5 L442.0 146.7 L444.0 144.9 L446.0 143.3 L448.0 141.7 L450.0 140.3 L452.0 138.8 L454.0 137.5 L456.0 136.2 L458.0 134.9 L460.0 133.7 L462.0 132.6 L464.0 131.5 L466.0 130.4 L468.0 129.4 L470.0 128.4 L472.0 127.4 L474.0 126.4 L476.0 125.5 L478.0 124.6 L480.0 123.8 L482.0 122.9 L484.0 122.1 L486.0 121.3 L488.0 120.5 L490.0 119.7 L492.0 119.0 L494.0 118.3 L496.0 117.6 L498.0 116.9 L500.0 116.2 L502.0 115.5 L504.0 114.9 L506.0 114.2 L508.0 113.6 L510.0 113.0 L512.0 112.4 L514.0 111.8 L516.0 111.2 L518.0 110.7 L520.0 110.1 L522.0 109.5 L524.0 109.0 L526.0 108.5 L528.0 108.0 L530.0 107.4 L532.0 106.9 L534.0 106.4 L536.0 105.9 L538.0 105.5 L540.0 105.0 L542.0 104.5 L544.0 104.1 L546.0 103.6 L548.0 103.2 L550.0 102.7 L552.0 102.3 L554.0 101.9 L556.0 101.4 L558.0 101.0 L560.0 100.6 L562.0 100.2 L564.0 99.8 L566.0 99.4 L568.0 99.0 L570.0 98.6 L572.0 98.2 L574.0 97.9 L576.0 97.5 L578.0 97.1 L580.0 96.8 L582.0 96.4 L584.0 96.0 L586.0 95.7 L588.0 95.3 L590.0 95.0 L592.0 94.7 L594.0 94.3 L596.0 94.0 L598.0 93.7 L600.0 93.3 L602.0 93.0 L604.0 92.7 L606.0 92.4 L608.0 92.1 L610.0 91.7 L612.0 91.4 L614.0 91.1 L616.0 90.8 L618.0 90.5 L620.0 90.2 L622.0 89.9 L624.0 89.7 L626.0 89.4 L628.0 89.1 L630.0 88.8 L632.0 88.5 L634.0 88.2 L636.0 88.0 L638.0 87.7 L640.0 87.4 L642.0 87.2 L644.0 86.9 L646.0 86.6 L648.0 86.4 L650.0 86.1 L652.0 85.8 L654.0 85.6 L656.0 85.3 L658.0 85.1 L660.0 84.8 L662.0 84.6 L664.0 84.3 L666.0 84.1 L668.0 83.9 L669.6 83.7" fill="none" stroke="#bbbbbb" stroke-width="2.9" stroke-dasharray="14 14.6"/>
<path d="M460.8 75.0l2.5 2.5l-2.5 2.5l-2.5 -2.5z" fill="#7b1414"/>
<path d="M437.7 93.7l2.5 2.5l-2.5 2.5l-2.5 -2.5z" fill="#7b1414"/>
<path d="M448.1 100.8l2.5 2.5l-2.5 2.5l-2.5 -2.5z" fill="#7b1414"/>
<path d="M453.1 115.6l2.5 2.5l-2.5 2.5l-2.5 -2.5z" fill="#7b1414"/>
<path d="M482.5 115.6l2.5 2.5l-2.5 2.5l-2.5 -2.5z" fill="#7b1414"/>
<path d="M438.9 120.1l2.5 2.5l-2.5 2.5l-2.5 -2.5z" fill="#7b1414"/>
<path d="M426.1 124.2l2.5 2.5l-2.5 2.5l-2.5 -2.5z" fill="#7b1414"/>
<path d="M416.0 145.7l2.5 2.5l-2.5 2.5l-2.5 -2.5z" fill="#7b1414"/>
<path d="M440.4 148.4l2.5 2.5l-2.5 2.5l-2.5 -2.5z" fill="#7b1414"/>
<path d="M447.8 164.1l2.5 2.5l-2.5 2.5l-2.5 -2.5z" fill="#7b1414"/>
<path d="M410.7 181.0l2.5 2.5l-2.5 2.5l-2.5 -2.5z" fill="#7b1414"/>
<path d="M458.2 190.5l2.5 2.5l-2.5 2.5l-2.5 -2.5z" fill="#7b1414"/>
<path d="M413.4 235.2l2.5 2.5l-2.5 2.5l-2.5 -2.5z" fill="#7b1414"/>
<path d="M424.9 232.2l2.5 2.5l-2.5 2.5l-2.5 -2.5z" fill="#7b1414"/>
<path d="M433.8 239.9l2.5 2.5l-2.5 2.5l-2.5 -2.5z" fill="#7b1414"/>
<path d="M509.6 56.7l2.5 2.5l-2.5 2.5l-2.5 -2.5z" fill="#7b1414"/>
<path d="M552.3 117.5l2.5 2.5l-2.5 2.5l-2.5 -2.5z" fill="#7b1414"/>
<path d="M669.6 35.9l2.5 2.5l-2.5 2.5l-2.5 -2.5z" fill="#7b1414"/>
<path d="M592.7 79.8l2.5 2.5l-2.5 2.5l-2.5 -2.5z" fill="#7b1414"/>
<path d="M596.3 78.0l2.5 2.5l-2.5 2.5l-2.5 -2.5z" fill="#7b1414"/>
<path d="M623.0 91.7l2.5 2.5l-2.5 2.5l-2.5 -2.5z" fill="#7b1414"/>
<circle cx="496.4" cy="43.0" r="2.65" fill="#e42e22"/>
<circle cx="471.0" cy="71.6" r="2.65" fill="#e42e22"/>
<circle cx="409.5" cy="118.1" r="2.65" fill="#e42e22"/>
<circle cx="486.4" cy="123.8" r="2.65" fill="#e42e22"/>
<circle cx="438.9" cy="145.5" r="2.65" fill="#e42e22"/>
<circle cx="421.1" cy="165.4" r="2.65" fill="#e42e22"/>
<circle cx="435.0" cy="163.3" r="2.65" fill="#e42e22"/>
<circle cx="413.4" cy="170.1" r="2.65" fill="#e42e22"/>
<circle cx="410.7" cy="177.3" r="2.65" fill="#e42e22"/>
<circle cx="449.3" cy="179.6" r="2.65" fill="#e42e22"/>
<circle cx="408.3" cy="201.5" r="2.65" fill="#e42e22"/>
<circle cx="418.4" cy="200.0" r="2.65" fill="#e42e22"/>
<circle cx="408.3" cy="231.8" r="2.65" fill="#e42e22"/>
<circle cx="435.0" cy="230.9" r="2.65" fill="#e42e22"/>
<circle cx="419.6" cy="255.8" r="2.65" fill="#e42e22"/>
<circle cx="409.5" cy="271.5" r="2.65" fill="#e42e22"/>
<circle cx="418.4" cy="284.3" r="2.65" fill="#e42e22"/>
<circle cx="433.8" cy="282.2" r="2.65" fill="#e42e22"/>
<circle cx="637.2" cy="88.2" r="2.65" fill="#e42e22"/>
<text x="398.5" y="19.3" style="font-size:14px;font-weight:bold" fill="#111">(b)</text>
<path d="M538.6 236l2.4 2.4l-2.4 2.4l-2.4 -2.4z" fill="#7b1414"/>
<circle cx="538.3" cy="257.7" r="2.65" fill="#e42e22"/>
<text x="547.9" y="242.6" class="lg" textLength="116" lengthAdjust="spacingAndGlyphs"><tspan font-style="italic">Ancylonema</tspan> present</text>
<text x="547.2" y="261.6" class="lg" textLength="107.6" lengthAdjust="spacingAndGlyphs">Red cell-dominated</text>
<line x1="45" x2="48.5" y1="15.3" y2="15.3" stroke="#333" stroke-width="1.1"/>
<text x="41.8" y="19.8" text-anchor="end" class="tk">1.00</text>
<line x1="45" x2="48.5" y1="83.5" y2="83.5" stroke="#333" stroke-width="1.1"/>
<text x="41.8" y="88.0" text-anchor="end" class="tk">0.75</text>
<line x1="45" x2="48.5" y1="151.8" y2="151.8" stroke="#333" stroke-width="1.1"/>
<text x="41.8" y="156.2" text-anchor="end" class="tk">0.50</text>
<line x1="45" x2="48.5" y1="220.0" y2="220.0" stroke="#333" stroke-width="1.1"/>
<text x="41.8" y="224.5" text-anchor="end" class="tk">0.25</text>
<line x1="45" x2="48.5" y1="288.2" y2="288.2" stroke="#333" stroke-width="1.1"/>
<text x="41.8" y="292.7" text-anchor="end" class="tk">0.00</text>
<line x1="79.4" x2="79.4" y1="302" y2="305.6" stroke="#333" stroke-width="1.1"/>
<text x="79.4" y="316.9" text-anchor="middle" class="tk">500</text>
<line x1="140.4" x2="140.4" y1="302" y2="305.6" stroke="#333" stroke-width="1.1"/>
<text x="140.4" y="316.9" text-anchor="middle" class="tk">1000</text>
<line x1="201.4" x2="201.4" y1="302" y2="305.6" stroke="#333" stroke-width="1.1"/>
<text x="201.4" y="316.9" text-anchor="middle" class="tk">1500</text>
<line x1="262.3" x2="262.3" y1="302" y2="305.6" stroke="#333" stroke-width="1.1"/>
<text x="262.3" y="316.9" text-anchor="middle" class="tk">2000</text>
<line x1="323.3" x2="323.3" y1="302" y2="305.6" stroke="#333" stroke-width="1.1"/>
<text x="323.3" y="316.9" text-anchor="middle" class="tk">2500</text>
<line x1="390.8" x2="394" y1="288.2" y2="288.2" stroke="#333" stroke-width="1.1"/>
<text x="387.3" y="292.7" text-anchor="end" class="tk">0</text>
<line x1="390.8" x2="394" y1="197.2" y2="197.2" stroke="#333" stroke-width="1.1"/>
<text x="387.3" y="201.7" text-anchor="end" class="tk">200</text>
<line x1="390.8" x2="394" y1="106.2" y2="106.2" stroke="#333" stroke-width="1.1"/>
<text x="387.3" y="110.7" text-anchor="end" class="tk">400</text>
<line x1="390.8" x2="394" y1="15.2" y2="15.2" stroke="#333" stroke-width="1.1"/>
<text x="387.3" y="19.7" text-anchor="end" class="tk">600</text>
<line x1="407.1" x2="407.1" y1="302" y2="305.6" stroke="#333" stroke-width="1.1"/>
<text x="407.1" y="316.9" text-anchor="middle" class="tk">0</text>
<line x1="468.2" x2="468.2" y1="302" y2="305.6" stroke="#333" stroke-width="1.1"/>
<text x="468.2" y="316.9" text-anchor="middle" class="tk">100k</text>
<line x1="529.2" x2="529.2" y1="302" y2="305.6" stroke="#333" stroke-width="1.1"/>
<text x="529.2" y="316.9" text-anchor="middle" class="tk">200k</text>
<line x1="590.2" x2="590.2" y1="302" y2="305.6" stroke="#333" stroke-width="1.1"/>
<text x="590.2" y="316.9" text-anchor="middle" class="tk">300k</text>
<line x1="651.3" x2="651.3" y1="302" y2="305.6" stroke="#333" stroke-width="1.1"/>
<text x="651.3" y="316.9" text-anchor="middle" class="tk">400k</text>
<!-- axis titles -->
<text x="192.8" y="333.2" text-anchor="middle" style="font-size:14.4px" fill="#111" textLength="117" lengthAdjust="spacingAndGlyphs">Wavelength (nm)</text>
<text x="538.4" y="333.2" text-anchor="middle" style="font-size:14.4px" fill="#111" textLength="148.7" lengthAdjust="spacingAndGlyphs">Cell Density (cells/ml)</text>
<text transform="translate(11.9 151.3) rotate(-90)" text-anchor="middle" style="font-size:14px" fill="#111">HDRF</text>
<text transform="translate(360.7 152) rotate(-90)" text-anchor="middle" style="font-size:14px" fill="#111" textLength="73.7" lengthAdjust="spacingAndGlyphs">IRF (W/m<tspan style="font-size:9px" dy="-5">2</tspan><tspan dy="5">)</tspan></text>
</svg>
</body></html>
